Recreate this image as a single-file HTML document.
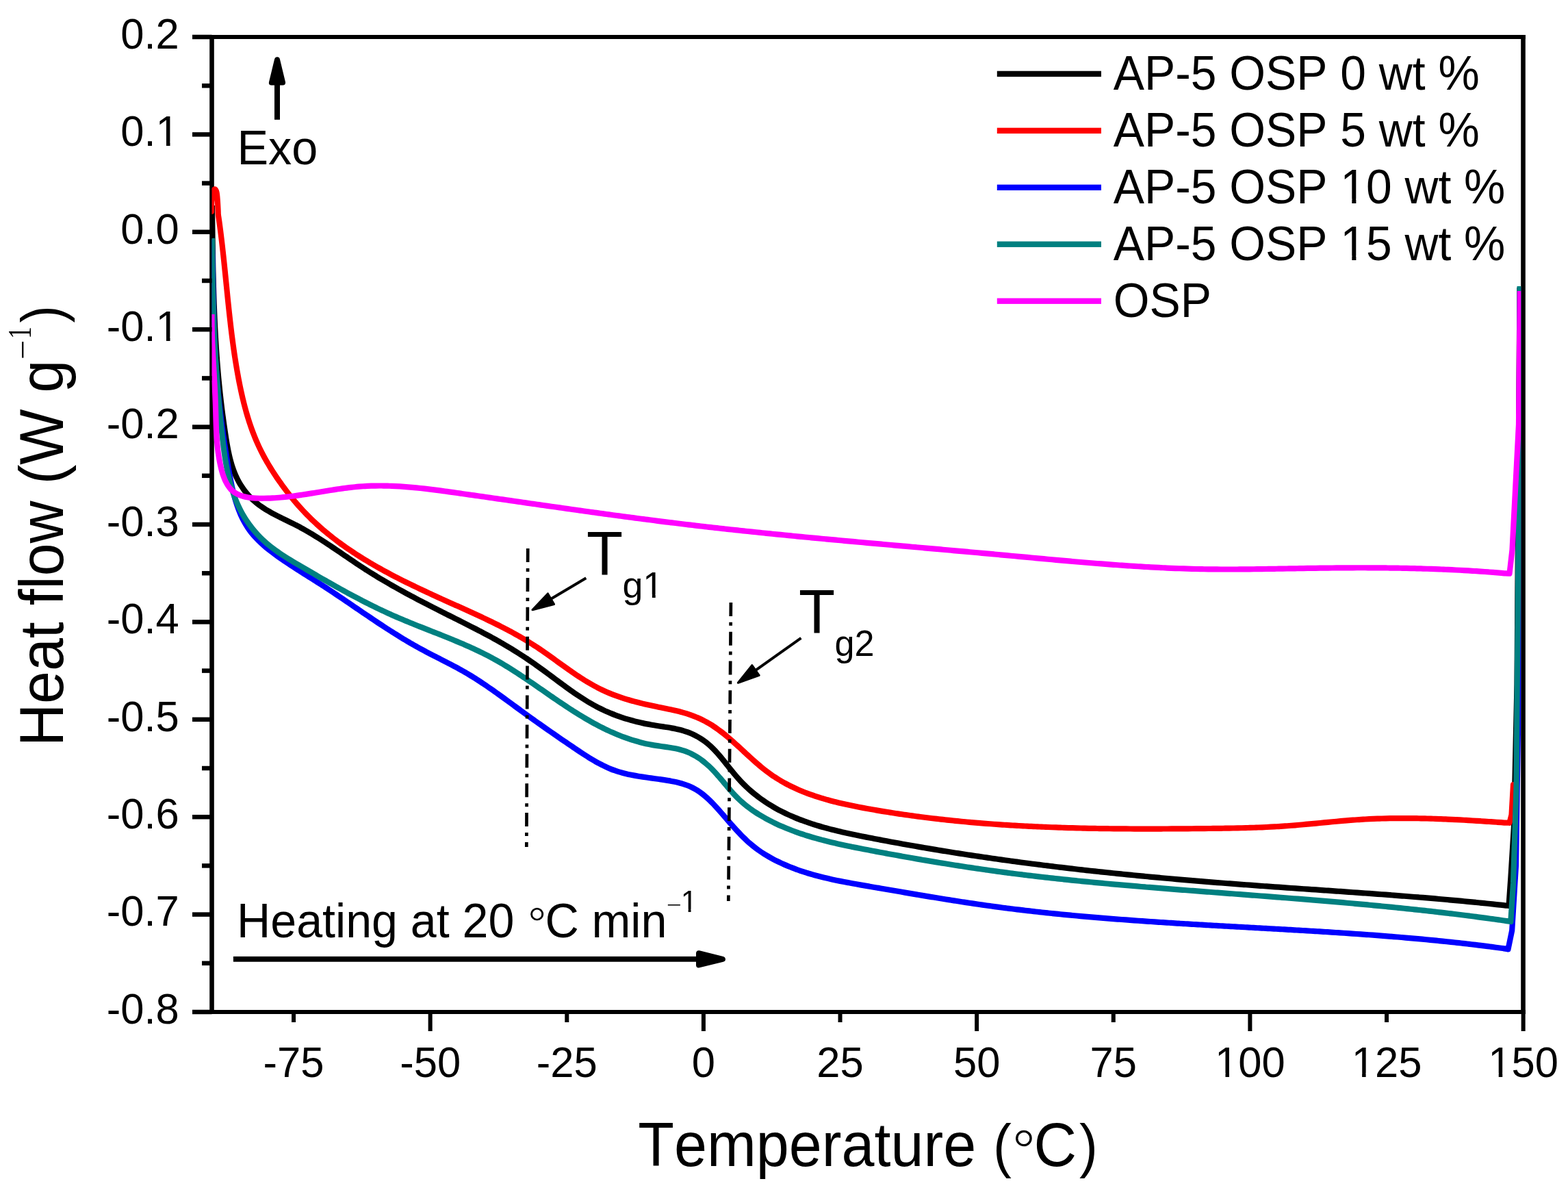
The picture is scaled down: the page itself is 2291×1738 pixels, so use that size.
<!DOCTYPE html><html><head><meta charset="utf-8"><title>DSC heat flow</title><style>html,body{margin:0;padding:0;background:#fff;}svg{display:block;} text{font-kerning:none;font-feature-settings:"kern" 0;}</style></head><body>
<svg width="2291" height="1738" viewBox="0 0 2291 1738">
<rect x="0" y="0" width="2291" height="1738" fill="#fff"/>
<g fill="#000">
<rect x="306.20" y="51.00" width="6.6" height="1430.00"/>
<rect x="2222.20" y="51.00" width="6.6" height="1430.00"/>
<rect x="306.20" y="51.00" width="1922.60" height="6.0"/>
<rect x="306.20" y="1475.00" width="1922.60" height="6.0"/>
</g>
<clipPath id="plotclip"><rect x="309.5" y="0" width="1912.7" height="1738"/></clipPath>
<g fill="none" stroke-width="8.2" stroke-linejoin="round" stroke-linecap="butt" clip-path="url(#plotclip)">
<path d="M309.80,300.00 C309.83,301.00 309.96,304.01 310.00,306.01 C310.05,308.01 310.06,310.01 310.08,312.00 C310.11,314.00 310.13,316.00 310.16,318.00 C310.18,319.99 310.21,321.99 310.23,323.99 C310.26,325.99 310.28,327.99 310.31,330.00 C310.34,332.00 310.36,334.00 310.39,336.00 C310.41,338.00 310.44,340.01 310.47,342.01 C310.50,344.02 310.52,346.02 310.55,348.03 C310.58,350.03 310.61,352.04 310.64,354.04 C310.67,356.05 310.70,358.05 310.73,360.06 C310.76,362.07 310.79,364.08 310.82,366.08 C310.85,368.09 310.89,370.10 310.92,372.11 C310.95,374.12 310.99,376.12 311.03,378.13 C311.06,380.14 311.10,382.15 311.14,384.16 C311.17,386.17 311.21,388.18 311.25,390.19 C311.30,392.20 311.34,394.21 311.38,396.22 C311.42,398.23 311.47,400.24 311.51,402.25 C311.56,404.26 311.61,406.27 311.66,408.28 C311.71,410.29 311.76,412.30 311.81,414.31 C311.86,416.32 311.92,418.33 311.97,420.34 C312.03,422.35 312.09,424.36 312.14,426.37 C312.20,428.38 312.27,430.39 312.33,432.40 C312.39,434.41 312.46,436.42 312.53,438.43 C312.59,440.44 312.66,442.44 312.73,444.45 C312.81,446.46 312.88,448.47 312.96,450.48 C313.03,452.49 313.11,454.49 313.19,456.50 C313.27,458.51 313.36,460.51 313.44,462.52 C313.53,464.53 313.62,466.53 313.71,468.54 C313.80,470.54 313.89,472.55 313.99,474.55 C314.08,476.55 314.18,478.56 314.28,480.56 C314.39,482.56 314.49,484.57 314.60,486.57 C314.71,488.57 314.82,490.57 314.93,492.57 C315.04,494.57 315.16,496.57 315.28,498.57 C315.40,500.57 315.52,502.57 315.65,504.56 C315.77,506.56 315.90,508.56 316.03,510.55 C316.17,512.55 316.30,514.54 316.44,516.54 C316.58,518.53 316.72,520.52 316.87,522.51 C317.02,524.51 317.17,526.50 317.32,528.49 C317.47,530.48 317.63,532.46 317.79,534.45 C317.95,536.44 318.12,538.43 318.29,540.41 C318.45,542.40 318.63,544.38 318.80,546.37 C318.98,548.35 319.16,550.33 319.34,552.31 C319.53,554.30 319.71,556.28 319.91,558.26 C320.10,560.24 320.30,562.22 320.50,564.20 C320.70,566.18 320.90,568.16 321.11,570.15 C321.32,572.13 321.53,574.11 321.75,576.09 C321.97,578.07 322.19,580.05 322.41,582.04 C322.64,584.02 322.87,586.01 323.11,587.99 C323.34,589.98 323.58,591.96 323.82,593.95 C324.07,595.94 324.32,597.93 324.57,599.92 C324.82,601.91 325.08,603.90 325.34,605.90 C325.61,607.89 325.87,609.89 326.15,611.88 C326.42,613.88 326.69,615.88 326.98,617.89 C327.26,619.89 327.54,621.89 327.84,623.90 C328.13,625.91 328.42,627.92 328.72,629.94 C329.03,631.95 329.33,633.97 329.64,635.99 C329.96,638.01 330.27,640.03 330.60,642.05 C330.93,644.08 331.26,646.10 331.61,648.12 C331.96,650.14 332.32,652.16 332.70,654.18 C333.08,656.19 333.47,658.20 333.89,660.20 C334.31,662.20 334.74,664.20 335.21,666.18 C335.67,668.16 336.16,670.13 336.67,672.09 C337.19,674.05 337.73,676.00 338.31,677.92 C338.89,679.85 339.49,681.77 340.14,683.66 C340.79,685.56 341.47,687.44 342.19,689.29 C342.91,691.15 343.67,692.98 344.48,694.79 C345.29,696.60 346.14,698.39 347.03,700.15 C347.93,701.90 348.88,703.64 349.86,705.34 C350.85,707.04 351.89,708.72 352.97,710.37 C354.05,712.01 355.17,713.62 356.34,715.20 C357.51,716.78 358.72,718.33 359.96,719.85 C361.21,721.36 362.51,722.84 363.84,724.28 C365.17,725.72 366.54,727.12 367.94,728.49 C369.35,729.85 370.80,731.17 372.28,732.46 C373.76,733.74 375.29,734.98 376.84,736.19 C378.39,737.39 379.98,738.55 381.59,739.68 C383.21,740.81 384.86,741.90 386.53,742.96 C388.20,744.03 389.90,745.06 391.61,746.08 C393.33,747.09 395.07,748.07 396.82,749.04 C398.58,750.01 400.35,750.95 402.14,751.89 C403.92,752.82 405.73,753.74 407.53,754.65 C409.34,755.56 411.16,756.46 412.98,757.35 C414.80,758.25 416.63,759.14 418.45,760.03 C420.28,760.92 422.11,761.81 423.94,762.71 C425.76,763.60 427.58,764.50 429.40,765.42 C431.21,766.33 433.02,767.25 434.81,768.19 C436.61,769.12 438.39,770.07 440.17,771.04 C441.94,772.00 443.70,772.98 445.46,773.97 C447.22,774.96 448.96,775.96 450.70,776.98 C452.44,777.99 454.16,779.01 455.89,780.05 C457.61,781.08 459.32,782.13 461.03,783.18 C462.73,784.23 464.43,785.29 466.13,786.36 C467.82,787.43 469.51,788.51 471.19,789.59 C472.88,790.68 474.55,791.77 476.23,792.87 C477.90,793.96 479.57,795.07 481.24,796.17 C482.90,797.28 484.56,798.39 486.22,799.50 C487.88,800.62 489.54,801.74 491.19,802.86 C492.85,803.98 494.50,805.10 496.15,806.23 C497.80,807.35 499.45,808.48 501.10,809.60 C502.75,810.73 504.40,811.85 506.05,812.98 C507.70,814.10 509.35,815.23 511.01,816.35 C512.66,817.47 514.31,818.59 515.97,819.71 C517.62,820.82 519.28,821.94 520.94,823.05 C522.60,824.16 524.26,825.26 525.93,826.36 C527.60,827.46 529.27,828.56 530.95,829.65 C532.62,830.73 534.30,831.82 535.99,832.89 C537.67,833.97 539.36,835.04 541.06,836.10 C542.75,837.16 544.45,838.22 546.15,839.27 C547.86,840.31 549.57,841.36 551.28,842.40 C552.99,843.43 554.71,844.46 556.43,845.49 C558.15,846.52 559.87,847.54 561.60,848.55 C563.33,849.56 565.06,850.57 566.80,851.58 C568.53,852.58 570.27,853.58 572.01,854.57 C573.75,855.57 575.50,856.56 577.25,857.54 C579.00,858.53 580.75,859.51 582.50,860.48 C584.26,861.46 586.02,862.43 587.78,863.39 C589.54,864.36 591.30,865.32 593.07,866.28 C594.83,867.24 596.60,868.19 598.37,869.15 C600.14,870.10 601.92,871.04 603.69,871.99 C605.47,872.93 607.24,873.87 609.02,874.81 C610.80,875.75 612.58,876.68 614.37,877.61 C616.15,878.54 617.93,879.47 619.72,880.40 C621.50,881.32 623.29,882.25 625.08,883.17 C626.87,884.09 628.66,885.01 630.45,885.92 C632.24,886.84 634.03,887.75 635.83,888.67 C637.62,889.58 639.41,890.49 641.21,891.40 C643.00,892.31 644.80,893.21 646.59,894.12 C648.39,895.03 650.18,895.93 651.98,896.83 C653.78,897.74 655.57,898.64 657.37,899.54 C659.16,900.44 660.96,901.34 662.76,902.24 C664.55,903.14 666.35,904.04 668.14,904.94 C669.94,905.84 671.73,906.74 673.53,907.64 C675.32,908.54 677.11,909.44 678.91,910.34 C680.70,911.25 682.49,912.15 684.27,913.05 C686.06,913.96 687.85,914.87 689.63,915.78 C691.41,916.69 693.19,917.60 694.97,918.52 C696.75,919.44 698.53,920.36 700.30,921.28 C702.07,922.21 703.84,923.13 705.61,924.07 C707.37,925.00 709.14,925.93 710.89,926.88 C712.65,927.82 714.41,928.77 716.16,929.72 C717.91,930.67 719.65,931.63 721.39,932.60 C723.14,933.56 724.87,934.53 726.60,935.51 C728.34,936.49 730.06,937.47 731.79,938.47 C733.51,939.46 735.23,940.46 736.94,941.46 C738.66,942.47 740.37,943.48 742.07,944.50 C743.78,945.52 745.48,946.55 747.17,947.58 C748.87,948.62 750.56,949.66 752.25,950.71 C753.94,951.76 755.62,952.82 757.31,953.89 C758.99,954.96 760.66,956.03 762.33,957.11 C764.01,958.20 765.67,959.29 767.34,960.39 C769.00,961.49 770.66,962.60 772.32,963.72 C773.97,964.84 775.62,965.97 777.27,967.11 C778.92,968.24 780.57,969.39 782.21,970.55 C783.85,971.70 785.48,972.87 787.12,974.04 C788.75,975.22 790.38,976.40 792.01,977.58 C793.64,978.77 795.27,979.97 796.89,981.16 C798.52,982.36 800.14,983.56 801.76,984.77 C803.39,985.97 805.01,987.18 806.63,988.39 C808.26,989.60 809.88,990.81 811.50,992.01 C813.13,993.22 814.75,994.43 816.38,995.63 C818.00,996.84 819.63,998.04 821.26,999.24 C822.89,1000.43 824.52,1001.63 826.16,1002.81 C827.80,1004.00 829.44,1005.18 831.08,1006.35 C832.72,1007.52 834.37,1008.69 836.02,1009.84 C837.68,1011.00 839.33,1012.14 840.99,1013.28 C842.66,1014.41 844.33,1015.53 846.00,1016.64 C847.68,1017.75 849.36,1018.85 851.04,1019.93 C852.73,1021.01 854.43,1022.07 856.13,1023.12 C857.83,1024.17 859.54,1025.21 861.26,1026.22 C862.98,1027.23 864.71,1028.23 866.45,1029.21 C868.19,1030.18 869.93,1031.14 871.69,1032.07 C873.45,1033.00 875.22,1033.92 877.00,1034.80 C878.78,1035.69 880.57,1036.55 882.37,1037.40 C884.17,1038.24 885.98,1039.05 887.80,1039.85 C889.62,1040.64 891.45,1041.41 893.30,1042.16 C895.14,1042.91 896.99,1043.64 898.85,1044.34 C900.71,1045.05 902.59,1045.73 904.47,1046.39 C906.35,1047.05 908.24,1047.69 910.13,1048.31 C912.03,1048.93 913.94,1049.53 915.86,1050.11 C917.77,1050.69 919.70,1051.25 921.63,1051.79 C923.56,1052.33 925.50,1052.85 927.45,1053.35 C929.40,1053.85 931.35,1054.33 933.31,1054.80 C935.28,1055.26 937.25,1055.71 939.22,1056.13 C941.20,1056.56 943.18,1056.97 945.17,1057.36 C947.16,1057.75 949.16,1058.13 951.16,1058.48 C953.16,1058.84 955.17,1059.18 957.18,1059.51 C959.19,1059.84 961.21,1060.14 963.23,1060.46 C965.25,1060.77 967.27,1061.07 969.28,1061.38 C971.29,1061.69 973.31,1062.00 975.31,1062.32 C977.31,1062.65 979.31,1062.98 981.29,1063.35 C983.27,1063.71 985.25,1064.08 987.20,1064.49 C989.16,1064.91 991.10,1065.34 993.03,1065.82 C994.95,1066.30 996.85,1066.81 998.73,1067.37 C1000.61,1067.94 1002.47,1068.54 1004.30,1069.20 C1006.14,1069.86 1007.95,1070.57 1009.73,1071.32 C1011.51,1072.08 1013.26,1072.88 1014.99,1073.74 C1016.72,1074.59 1018.42,1075.49 1020.09,1076.45 C1021.76,1077.40 1023.41,1078.40 1025.02,1079.45 C1026.63,1080.50 1028.22,1081.60 1029.77,1082.75 C1031.32,1083.90 1032.84,1085.10 1034.33,1086.34 C1035.82,1087.59 1037.28,1088.89 1038.71,1090.23 C1040.14,1091.57 1041.54,1092.95 1042.92,1094.37 C1044.31,1095.78 1045.66,1097.24 1047.00,1098.72 C1048.35,1100.20 1049.67,1101.72 1050.98,1103.25 C1052.29,1104.78 1053.58,1106.34 1054.87,1107.91 C1056.17,1109.48 1057.44,1111.08 1058.72,1112.68 C1060.00,1114.27 1061.27,1115.89 1062.55,1117.50 C1063.83,1119.11 1065.10,1120.73 1066.38,1122.34 C1067.67,1123.95 1068.95,1125.56 1070.26,1127.16 C1071.56,1128.76 1072.86,1130.35 1074.19,1131.93 C1075.52,1133.50 1076.86,1135.06 1078.22,1136.59 C1079.58,1138.12 1080.96,1139.64 1082.36,1141.12 C1083.77,1142.61 1085.19,1144.07 1086.64,1145.51 C1088.08,1146.94 1089.54,1148.35 1091.03,1149.74 C1092.51,1151.13 1094.01,1152.49 1095.53,1153.83 C1097.05,1155.17 1098.59,1156.48 1100.14,1157.77 C1101.69,1159.06 1103.26,1160.33 1104.85,1161.57 C1106.43,1162.81 1108.03,1164.03 1109.65,1165.22 C1111.26,1166.41 1112.89,1167.58 1114.53,1168.72 C1116.18,1169.87 1117.83,1170.99 1119.50,1172.09 C1121.17,1173.18 1122.85,1174.26 1124.54,1175.30 C1126.23,1176.35 1127.94,1177.38 1129.65,1178.38 C1131.36,1179.38 1133.09,1180.36 1134.82,1181.32 C1136.56,1182.28 1138.30,1183.21 1140.06,1184.12 C1141.81,1185.04 1143.58,1185.93 1145.35,1186.80 C1147.13,1187.67 1148.91,1188.52 1150.70,1189.36 C1152.50,1190.19 1154.30,1191.00 1156.11,1191.79 C1157.92,1192.59 1159.74,1193.36 1161.56,1194.12 C1163.39,1194.88 1165.23,1195.62 1167.07,1196.34 C1168.91,1197.06 1170.76,1197.77 1172.62,1198.46 C1174.48,1199.14 1176.34,1199.82 1178.22,1200.47 C1180.09,1201.13 1181.97,1201.77 1183.85,1202.40 C1185.74,1203.03 1187.63,1203.64 1189.53,1204.24 C1191.43,1204.84 1193.33,1205.43 1195.24,1206.00 C1197.15,1206.58 1199.06,1207.14 1200.98,1207.68 C1202.90,1208.23 1204.83,1208.77 1206.76,1209.30 C1208.69,1209.82 1210.62,1210.34 1212.56,1210.84 C1214.50,1211.35 1216.44,1211.84 1218.39,1212.32 C1220.34,1212.81 1222.29,1213.28 1224.24,1213.75 C1226.19,1214.22 1228.15,1214.68 1230.11,1215.13 C1232.07,1215.58 1234.04,1216.02 1236.00,1216.46 C1237.97,1216.90 1239.94,1217.33 1241.91,1217.75 C1243.88,1218.17 1245.85,1218.59 1247.83,1219.00 C1249.80,1219.42 1251.78,1219.82 1253.75,1220.23 C1255.73,1220.63 1257.71,1221.03 1259.69,1221.43 C1261.67,1221.82 1263.65,1222.21 1265.63,1222.61 C1267.61,1223.00 1269.59,1223.38 1271.57,1223.77 C1273.55,1224.15 1275.53,1224.54 1277.51,1224.92 C1279.49,1225.30 1281.47,1225.68 1283.46,1226.06 C1285.44,1226.44 1287.42,1226.81 1289.40,1227.19 C1291.38,1227.56 1293.36,1227.94 1295.34,1228.31 C1297.32,1228.68 1299.30,1229.05 1301.29,1229.41 C1303.27,1229.78 1305.25,1230.15 1307.23,1230.51 C1309.21,1230.87 1311.19,1231.23 1313.17,1231.59 C1315.16,1231.95 1317.14,1232.31 1319.12,1232.67 C1321.10,1233.02 1323.08,1233.38 1325.06,1233.73 C1327.05,1234.08 1329.03,1234.43 1331.01,1234.78 C1332.99,1235.13 1334.97,1235.48 1336.96,1235.83 C1338.94,1236.17 1340.92,1236.51 1342.90,1236.86 C1344.89,1237.20 1346.87,1237.54 1348.85,1237.88 C1350.83,1238.22 1352.81,1238.55 1354.80,1238.89 C1356.78,1239.22 1358.76,1239.56 1360.75,1239.89 C1362.73,1240.22 1364.71,1240.55 1366.69,1240.88 C1368.68,1241.21 1370.66,1241.53 1372.64,1241.86 C1374.62,1242.18 1376.61,1242.51 1378.59,1242.83 C1380.57,1243.15 1382.56,1243.47 1384.54,1243.79 C1386.52,1244.11 1388.51,1244.42 1390.49,1244.74 C1392.47,1245.05 1394.46,1245.37 1396.44,1245.68 C1398.42,1245.99 1400.41,1246.30 1402.39,1246.61 C1404.38,1246.92 1406.36,1247.23 1408.34,1247.53 C1410.33,1247.84 1412.31,1248.14 1414.29,1248.44 C1416.28,1248.74 1418.26,1249.04 1420.25,1249.34 C1422.23,1249.64 1424.22,1249.94 1426.20,1250.24 C1428.18,1250.53 1430.17,1250.83 1432.15,1251.12 C1434.14,1251.41 1436.12,1251.70 1438.11,1251.99 C1440.09,1252.28 1442.08,1252.57 1444.06,1252.86 C1446.05,1253.14 1448.03,1253.43 1450.02,1253.71 C1452.00,1254.00 1453.99,1254.28 1455.97,1254.56 C1457.96,1254.84 1459.94,1255.12 1461.93,1255.40 C1463.91,1255.67 1465.90,1255.95 1467.88,1256.23 C1469.87,1256.50 1471.86,1256.77 1473.84,1257.05 C1475.83,1257.32 1477.81,1257.59 1479.80,1257.86 C1481.79,1258.13 1483.77,1258.39 1485.76,1258.66 C1487.74,1258.93 1489.73,1259.19 1491.72,1259.45 C1493.70,1259.72 1495.69,1259.98 1497.68,1260.24 C1499.66,1260.50 1501.65,1260.76 1503.64,1261.02 C1505.62,1261.27 1507.61,1261.53 1509.60,1261.78 C1511.58,1262.04 1513.57,1262.29 1515.56,1262.55 C1517.55,1262.80 1519.53,1263.05 1521.52,1263.30 C1523.51,1263.55 1525.49,1263.80 1527.48,1264.04 C1529.47,1264.29 1531.46,1264.53 1533.45,1264.78 C1535.43,1265.02 1537.42,1265.27 1539.41,1265.51 C1541.40,1265.75 1543.39,1265.99 1545.37,1266.23 C1547.36,1266.47 1549.35,1266.70 1551.34,1266.94 C1553.33,1267.18 1555.32,1267.41 1557.30,1267.65 C1559.29,1267.88 1561.28,1268.11 1563.27,1268.34 C1565.26,1268.57 1567.25,1268.80 1569.24,1269.03 C1571.23,1269.26 1573.22,1269.49 1575.21,1269.72 C1577.20,1269.94 1579.18,1270.17 1581.17,1270.39 C1583.16,1270.61 1585.15,1270.84 1587.14,1271.06 C1589.13,1271.28 1591.12,1271.50 1593.11,1271.72 C1595.10,1271.94 1597.09,1272.16 1599.08,1272.37 C1601.07,1272.59 1603.06,1272.80 1605.06,1273.02 C1607.05,1273.23 1609.04,1273.45 1611.03,1273.66 C1613.02,1273.87 1615.01,1274.08 1617.00,1274.29 C1618.99,1274.50 1620.98,1274.71 1622.97,1274.92 C1624.96,1275.12 1626.96,1275.33 1628.95,1275.54 C1630.94,1275.74 1632.93,1275.95 1634.92,1276.15 C1636.91,1276.35 1638.91,1276.55 1640.90,1276.75 C1642.89,1276.96 1644.88,1277.16 1646.87,1277.35 C1648.87,1277.55 1650.86,1277.75 1652.85,1277.95 C1654.84,1278.14 1656.84,1278.34 1658.83,1278.53 C1660.82,1278.73 1662.82,1278.92 1664.81,1279.11 C1666.80,1279.31 1668.80,1279.50 1670.79,1279.69 C1672.78,1279.88 1674.78,1280.07 1676.77,1280.26 C1678.76,1280.44 1680.76,1280.63 1682.75,1280.82 C1684.74,1281.00 1686.74,1281.19 1688.73,1281.37 C1690.73,1281.56 1692.72,1281.74 1694.72,1281.92 C1696.71,1282.11 1698.70,1282.29 1700.70,1282.47 C1702.69,1282.65 1704.69,1282.83 1706.68,1283.01 C1708.68,1283.19 1710.67,1283.36 1712.67,1283.54 C1714.66,1283.72 1716.66,1283.89 1718.66,1284.07 C1720.65,1284.24 1722.65,1284.42 1724.64,1284.59 C1726.64,1284.76 1728.64,1284.93 1730.63,1285.11 C1732.63,1285.28 1734.62,1285.45 1736.62,1285.62 C1738.62,1285.79 1740.61,1285.96 1742.61,1286.12 C1744.61,1286.29 1746.60,1286.46 1748.60,1286.62 C1750.60,1286.79 1752.59,1286.96 1754.59,1287.12 C1756.59,1287.28 1758.59,1287.45 1760.58,1287.61 C1762.58,1287.77 1764.58,1287.94 1766.58,1288.10 C1768.58,1288.26 1770.57,1288.42 1772.57,1288.58 C1774.57,1288.74 1776.57,1288.90 1778.57,1289.05 C1780.57,1289.21 1782.57,1289.37 1784.56,1289.53 C1786.56,1289.68 1788.56,1289.84 1790.56,1289.99 C1792.56,1290.15 1794.56,1290.30 1796.56,1290.46 C1798.56,1290.61 1800.56,1290.76 1802.56,1290.91 C1804.56,1291.07 1806.56,1291.22 1808.56,1291.37 C1810.56,1291.52 1812.56,1291.67 1814.56,1291.82 C1816.56,1291.97 1818.56,1292.11 1820.56,1292.26 C1822.56,1292.41 1824.56,1292.56 1826.56,1292.70 C1828.57,1292.85 1830.57,1293.00 1832.57,1293.14 C1834.57,1293.29 1836.57,1293.43 1838.57,1293.58 C1840.57,1293.72 1842.58,1293.87 1844.58,1294.01 C1846.58,1294.15 1848.58,1294.30 1850.58,1294.44 C1852.58,1294.58 1854.59,1294.72 1856.59,1294.87 C1858.59,1295.01 1860.59,1295.15 1862.59,1295.29 C1864.60,1295.43 1866.60,1295.57 1868.60,1295.71 C1870.60,1295.85 1872.61,1295.99 1874.61,1296.13 C1876.61,1296.27 1878.61,1296.41 1880.62,1296.55 C1882.62,1296.69 1884.62,1296.83 1886.63,1296.97 C1888.63,1297.11 1890.63,1297.25 1892.63,1297.39 C1894.64,1297.53 1896.64,1297.67 1898.64,1297.80 C1900.65,1297.94 1902.65,1298.08 1904.65,1298.22 C1906.66,1298.36 1908.66,1298.49 1910.66,1298.63 C1912.67,1298.77 1914.67,1298.91 1916.67,1299.05 C1918.68,1299.18 1920.68,1299.32 1922.68,1299.46 C1924.68,1299.60 1926.69,1299.74 1928.69,1299.87 C1930.69,1300.01 1932.70,1300.15 1934.70,1300.29 C1936.70,1300.43 1938.71,1300.57 1940.71,1300.70 C1942.71,1300.84 1944.72,1300.98 1946.72,1301.12 C1948.72,1301.26 1950.73,1301.40 1952.73,1301.54 C1954.73,1301.68 1956.74,1301.82 1958.74,1301.96 C1960.74,1302.10 1962.74,1302.24 1964.75,1302.38 C1966.75,1302.52 1968.75,1302.66 1970.76,1302.80 C1972.76,1302.94 1974.76,1303.08 1976.76,1303.22 C1978.77,1303.36 1980.77,1303.50 1982.77,1303.65 C1984.78,1303.79 1986.78,1303.93 1988.78,1304.07 C1990.78,1304.22 1992.79,1304.36 1994.79,1304.51 C1996.79,1304.65 1998.79,1304.79 2000.79,1304.94 C2002.80,1305.08 2004.80,1305.23 2006.80,1305.38 C2008.80,1305.52 2010.80,1305.67 2012.81,1305.82 C2014.81,1305.96 2016.81,1306.11 2018.81,1306.26 C2020.81,1306.41 2022.81,1306.56 2024.81,1306.71 C2026.82,1306.86 2028.82,1307.01 2030.82,1307.16 C2032.82,1307.31 2034.82,1307.46 2036.82,1307.62 C2038.82,1307.77 2040.82,1307.92 2042.82,1308.08 C2044.82,1308.23 2046.82,1308.38 2048.82,1308.54 C2050.82,1308.70 2052.82,1308.85 2054.82,1309.01 C2056.82,1309.17 2058.82,1309.33 2060.82,1309.49 C2062.82,1309.64 2064.82,1309.80 2066.82,1309.97 C2068.82,1310.13 2070.82,1310.29 2072.82,1310.45 C2074.82,1310.61 2076.82,1310.78 2078.81,1310.94 C2080.81,1311.11 2082.81,1311.27 2084.81,1311.44 C2086.81,1311.61 2088.81,1311.78 2090.80,1311.95 C2092.80,1312.11 2094.80,1312.28 2096.80,1312.46 C2098.79,1312.63 2100.79,1312.80 2102.79,1312.97 C2104.78,1313.15 2106.78,1313.32 2108.78,1313.50 C2110.77,1313.67 2112.77,1313.85 2114.77,1314.03 C2116.76,1314.21 2118.76,1314.39 2120.75,1314.57 C2122.75,1314.75 2124.74,1314.93 2126.74,1315.11 C2128.73,1315.30 2130.73,1315.48 2132.72,1315.67 C2134.72,1315.85 2136.71,1316.04 2138.71,1316.23 C2140.70,1316.42 2142.69,1316.61 2144.69,1316.80 C2146.68,1316.99 2148.67,1317.19 2150.67,1317.38 C2152.66,1317.57 2154.65,1317.77 2156.64,1317.97 C2158.64,1318.17 2160.63,1318.36 2162.62,1318.56 C2164.61,1318.77 2166.60,1318.97 2168.59,1319.17 C2170.58,1319.37 2172.58,1319.58 2174.57,1319.79 C2176.56,1319.99 2178.55,1320.20 2180.54,1320.41 C2182.53,1320.62 2184.52,1320.83 2186.51,1321.05 C2188.49,1321.26 2190.48,1321.48 2192.47,1321.69 C2194.46,1321.91 2196.43,1322.16 2198.44,1322.35 C2200.44,1322.53 2203.49,1322.72 2204.50,1322.80 L2207.30,1282.90 L2212.00,1207.00 L2216.50,1000.00 L2220.50,420.00" stroke="#000000"/>
<path d="M309.00,309.00 C309.05,306.67 309.00,299.50 309.30,295.00 C309.60,290.50 310.05,285.12 310.80,282.00 C311.55,278.88 312.85,276.47 313.80,276.30 C314.75,276.13 315.83,278.22 316.50,281.00 C317.17,283.78 317.45,288.63 317.80,293.00 C318.15,297.37 318.43,303.81 318.60,307.20 C318.77,310.59 318.66,311.31 318.85,313.32 C319.03,315.33 319.43,317.27 319.71,319.25 C319.99,321.22 320.26,323.20 320.54,325.18 C320.81,327.16 321.07,329.14 321.34,331.13 C321.60,333.11 321.86,335.10 322.11,337.08 C322.36,339.07 322.61,341.05 322.86,343.04 C323.11,345.03 323.35,347.02 323.59,349.01 C323.82,351.00 324.06,352.99 324.29,354.99 C324.52,356.98 324.75,358.97 324.98,360.97 C325.21,362.96 325.43,364.96 325.65,366.96 C325.87,368.95 326.09,370.95 326.31,372.95 C326.52,374.95 326.74,376.95 326.95,378.94 C327.16,380.94 327.37,382.95 327.58,384.95 C327.79,386.95 328.00,388.95 328.20,390.95 C328.41,392.95 328.61,394.96 328.82,396.96 C329.02,398.96 329.22,400.97 329.43,402.97 C329.63,404.98 329.83,406.98 330.03,408.98 C330.23,410.99 330.43,412.99 330.64,415.00 C330.84,417.01 331.04,419.01 331.24,421.02 C331.44,423.02 331.64,425.03 331.85,427.03 C332.05,429.04 332.25,431.05 332.46,433.05 C332.66,435.06 332.87,437.06 333.07,439.07 C333.28,441.07 333.49,443.08 333.70,445.09 C333.91,447.09 334.12,449.10 334.33,451.10 C334.55,453.11 334.76,455.11 334.98,457.11 C335.20,459.12 335.42,461.12 335.64,463.13 C335.86,465.13 336.09,467.13 336.32,469.13 C336.54,471.14 336.77,473.14 337.01,475.14 C337.24,477.14 337.48,479.14 337.72,481.14 C337.96,483.14 338.21,485.14 338.45,487.14 C338.70,489.14 338.95,491.13 339.21,493.13 C339.47,495.13 339.73,497.12 339.99,499.12 C340.26,501.11 340.53,503.11 340.80,505.10 C341.08,507.09 341.35,509.09 341.64,511.08 C341.92,513.07 342.21,515.06 342.51,517.04 C342.80,519.03 343.10,521.02 343.41,523.01 C343.72,524.99 344.03,526.98 344.34,528.96 C344.66,530.94 344.99,532.93 345.32,534.91 C345.65,536.89 345.98,538.87 346.33,540.84 C346.67,542.82 347.02,544.80 347.38,546.77 C347.74,548.74 348.10,550.72 348.47,552.69 C348.84,554.66 349.22,556.63 349.61,558.60 C350.00,560.56 350.39,562.53 350.80,564.49 C351.20,566.46 351.61,568.42 352.03,570.37 C352.45,572.33 352.89,574.29 353.33,576.24 C353.77,578.19 354.22,580.14 354.68,582.09 C355.14,584.03 355.62,585.98 356.10,587.92 C356.59,589.86 357.08,591.79 357.59,593.72 C358.10,595.65 358.62,597.58 359.16,599.51 C359.69,601.43 360.24,603.35 360.80,605.26 C361.36,607.18 361.94,609.09 362.53,610.99 C363.12,612.89 363.72,614.79 364.34,616.69 C364.96,618.58 365.60,620.47 366.25,622.35 C366.90,624.24 367.57,626.11 368.25,627.98 C368.94,629.85 369.64,631.72 370.36,633.58 C371.08,635.44 371.81,637.29 372.57,639.13 C373.32,640.98 374.09,642.82 374.88,644.65 C375.68,646.48 376.49,648.31 377.32,650.12 C378.15,651.94 379.00,653.75 379.87,655.55 C380.74,657.35 381.63,659.15 382.54,660.93 C383.45,662.72 384.39,664.50 385.34,666.27 C386.29,668.04 387.26,669.80 388.25,671.56 C389.24,673.31 390.25,675.06 391.27,676.80 C392.30,678.54 393.34,680.27 394.40,681.99 C395.45,683.72 396.53,685.43 397.62,687.14 C398.70,688.85 399.81,690.55 400.93,692.25 C402.04,693.94 403.17,695.63 404.32,697.31 C405.46,698.99 406.62,700.66 407.79,702.33 C408.95,703.99 410.13,705.65 411.32,707.30 C412.51,708.95 413.71,710.60 414.93,712.23 C416.14,713.87 417.36,715.50 418.59,717.12 C419.83,718.73 421.07,720.34 422.33,721.94 C423.58,723.54 424.85,725.13 426.13,726.71 C427.41,728.28 428.70,729.85 430.00,731.41 C431.30,732.96 432.61,734.50 433.93,736.03 C435.26,737.56 436.59,739.08 437.94,740.58 C439.29,742.08 440.65,743.57 442.02,745.04 C443.39,746.51 444.77,747.97 446.16,749.42 C447.56,750.87 448.96,752.30 450.38,753.72 C451.79,755.14 453.22,756.54 454.66,757.93 C456.09,759.33 457.54,760.71 459.00,762.07 C460.46,763.44 461.92,764.79 463.40,766.14 C464.88,767.48 466.37,768.81 467.87,770.12 C469.37,771.44 470.87,772.75 472.39,774.04 C473.91,775.33 475.44,776.61 476.97,777.88 C478.51,779.15 480.06,780.41 481.61,781.66 C483.16,782.90 484.73,784.14 486.30,785.36 C487.87,786.59 489.45,787.80 491.04,789.00 C492.63,790.21 494.23,791.40 495.83,792.58 C497.44,793.76 499.05,794.93 500.68,796.09 C502.30,797.26 503.93,798.41 505.56,799.55 C507.20,800.69 508.85,801.82 510.50,802.94 C512.15,804.07 513.81,805.18 515.47,806.28 C517.14,807.39 518.81,808.48 520.49,809.57 C522.17,810.65 523.86,811.73 525.55,812.80 C527.24,813.86 528.94,814.92 530.65,815.97 C532.35,817.03 534.06,818.07 535.78,819.10 C537.50,820.14 539.22,821.16 540.95,822.18 C542.68,823.20 544.41,824.21 546.15,825.22 C547.89,826.22 549.63,827.22 551.38,828.21 C553.13,829.20 554.89,830.18 556.64,831.15 C558.40,832.13 560.17,833.10 561.94,834.06 C563.70,835.02 565.48,835.98 567.25,836.93 C569.03,837.88 570.81,838.82 572.59,839.76 C574.38,840.70 576.17,841.63 577.96,842.55 C579.75,843.48 581.55,844.40 583.35,845.31 C585.15,846.23 586.95,847.14 588.75,848.04 C590.56,848.95 592.37,849.85 594.18,850.74 C595.99,851.63 597.80,852.52 599.62,853.41 C601.43,854.30 603.25,855.18 605.07,856.05 C606.89,856.93 608.71,857.80 610.54,858.67 C612.36,859.54 614.19,860.41 616.02,861.27 C617.84,862.13 619.67,862.99 621.50,863.84 C623.33,864.70 625.17,865.55 627.00,866.40 C628.83,867.25 630.67,868.09 632.50,868.93 C634.34,869.78 636.17,870.62 638.01,871.45 C639.84,872.29 641.68,873.13 643.52,873.96 C645.35,874.80 647.19,875.63 649.02,876.46 C650.86,877.29 652.70,878.11 654.53,878.94 C656.37,879.77 658.20,880.59 660.04,881.42 C661.87,882.24 663.71,883.06 665.54,883.89 C667.37,884.71 669.21,885.53 671.04,886.35 C672.87,887.17 674.70,888.00 676.53,888.82 C678.36,889.64 680.18,890.47 682.01,891.29 C683.83,892.12 685.66,892.95 687.48,893.78 C689.30,894.61 691.12,895.44 692.94,896.27 C694.76,897.11 696.58,897.94 698.39,898.78 C700.21,899.62 702.02,900.47 703.83,901.31 C705.64,902.16 707.44,903.01 709.25,903.87 C711.05,904.73 712.86,905.59 714.65,906.45 C716.45,907.32 718.25,908.19 720.04,909.06 C721.83,909.94 723.62,910.82 725.41,911.71 C727.20,912.60 728.98,913.49 730.76,914.40 C732.54,915.30 734.31,916.21 736.09,917.12 C737.86,918.04 739.63,918.97 741.39,919.90 C743.15,920.83 744.92,921.77 746.67,922.72 C748.43,923.67 750.18,924.63 751.93,925.60 C753.67,926.56 755.42,927.54 757.15,928.53 C758.89,929.52 760.62,930.51 762.35,931.52 C764.08,932.53 765.80,933.55 767.52,934.58 C769.24,935.61 770.95,936.65 772.66,937.70 C774.37,938.76 776.07,939.82 777.77,940.90 C779.46,941.98 781.16,943.07 782.84,944.17 C784.53,945.28 786.21,946.39 787.88,947.52 C789.56,948.65 791.22,949.79 792.89,950.93 C794.56,952.08 796.22,953.24 797.88,954.40 C799.54,955.56 801.19,956.74 802.84,957.91 C804.50,959.09 806.15,960.27 807.80,961.45 C809.45,962.63 811.10,963.82 812.75,965.01 C814.40,966.19 816.04,967.38 817.69,968.57 C819.34,969.75 820.99,970.94 822.64,972.12 C824.29,973.30 825.95,974.48 827.60,975.66 C829.26,976.83 830.91,978.00 832.57,979.16 C834.24,980.32 835.90,981.47 837.57,982.62 C839.24,983.76 840.91,984.90 842.59,986.02 C844.26,987.14 845.95,988.25 847.64,989.35 C849.33,990.45 851.02,991.53 852.72,992.60 C854.43,993.67 856.14,994.73 857.85,995.76 C859.57,996.80 861.30,997.82 863.03,998.81 C864.77,999.81 866.51,1000.79 868.26,1001.75 C870.01,1002.71 871.78,1003.64 873.55,1004.55 C875.32,1005.46 877.11,1006.35 878.90,1007.22 C880.70,1008.08 882.51,1008.92 884.32,1009.73 C886.14,1010.54 887.97,1011.33 889.81,1012.10 C891.65,1012.86 893.49,1013.61 895.35,1014.33 C897.21,1015.05 899.08,1015.75 900.95,1016.43 C902.83,1017.12 904.71,1017.78 906.60,1018.42 C908.50,1019.06 910.40,1019.68 912.31,1020.29 C914.21,1020.89 916.13,1021.48 918.05,1022.05 C919.97,1022.62 921.90,1023.18 923.83,1023.72 C925.77,1024.26 927.71,1024.78 929.66,1025.29 C931.60,1025.80 933.55,1026.30 935.51,1026.78 C937.46,1027.26 939.43,1027.73 941.39,1028.19 C943.36,1028.65 945.32,1029.10 947.30,1029.54 C949.27,1029.98 951.24,1030.41 953.22,1030.83 C955.20,1031.24 957.18,1031.65 959.16,1032.06 C961.14,1032.46 963.13,1032.86 965.11,1033.26 C967.09,1033.66 969.07,1034.06 971.05,1034.46 C973.03,1034.86 975.01,1035.27 976.98,1035.69 C978.94,1036.10 980.91,1036.52 982.87,1036.96 C984.83,1037.40 986.78,1037.85 988.72,1038.32 C990.66,1038.80 992.59,1039.28 994.51,1039.79 C996.43,1040.31 998.35,1040.84 1000.24,1041.40 C1002.14,1041.96 1004.02,1042.55 1005.89,1043.17 C1007.76,1043.79 1009.62,1044.43 1011.46,1045.11 C1013.30,1045.79 1015.13,1046.50 1016.94,1047.24 C1018.75,1047.98 1020.55,1048.76 1022.33,1049.56 C1024.11,1050.37 1025.87,1051.21 1027.62,1052.09 C1029.36,1052.97 1031.09,1053.88 1032.80,1054.84 C1034.52,1055.79 1036.21,1056.78 1037.89,1057.80 C1039.56,1058.83 1041.22,1059.89 1042.87,1060.98 C1044.52,1062.07 1046.14,1063.20 1047.76,1064.35 C1049.38,1065.50 1050.98,1066.69 1052.57,1067.89 C1054.17,1069.10 1055.75,1070.33 1057.32,1071.58 C1058.89,1072.84 1060.45,1074.11 1062.00,1075.41 C1063.55,1076.70 1065.09,1078.01 1066.63,1079.34 C1068.17,1080.67 1069.69,1082.01 1071.22,1083.36 C1072.74,1084.72 1074.26,1086.09 1075.78,1087.46 C1077.30,1088.83 1078.81,1090.22 1080.32,1091.60 C1081.83,1092.99 1083.34,1094.38 1084.85,1095.78 C1086.36,1097.17 1087.86,1098.57 1089.37,1099.96 C1090.88,1101.35 1092.39,1102.74 1093.91,1104.13 C1095.42,1105.51 1096.94,1106.90 1098.46,1108.27 C1099.98,1109.64 1101.51,1111.01 1103.04,1112.36 C1104.58,1113.71 1106.12,1115.05 1107.67,1116.37 C1109.21,1117.70 1110.77,1119.01 1112.33,1120.30 C1113.90,1121.59 1115.47,1122.86 1117.06,1124.11 C1118.65,1125.36 1120.25,1126.59 1121.86,1127.79 C1123.47,1128.99 1125.09,1130.16 1126.73,1131.31 C1128.37,1132.46 1130.02,1133.58 1131.68,1134.68 C1133.35,1135.77 1135.03,1136.84 1136.72,1137.89 C1138.41,1138.93 1140.11,1139.95 1141.82,1140.95 C1143.54,1141.94 1145.26,1142.91 1147.00,1143.86 C1148.74,1144.81 1150.49,1145.73 1152.25,1146.63 C1154.01,1147.54 1155.78,1148.42 1157.57,1149.27 C1159.35,1150.13 1161.14,1150.97 1162.94,1151.78 C1164.74,1152.60 1166.56,1153.40 1168.38,1154.17 C1170.20,1154.95 1172.03,1155.70 1173.87,1156.44 C1175.71,1157.18 1177.56,1157.89 1179.42,1158.59 C1181.27,1159.30 1183.14,1159.98 1185.01,1160.64 C1186.89,1161.31 1188.77,1161.95 1190.66,1162.59 C1192.55,1163.22 1194.44,1163.83 1196.35,1164.43 C1198.25,1165.03 1200.16,1165.62 1202.07,1166.19 C1203.99,1166.76 1205.91,1167.32 1207.84,1167.86 C1209.77,1168.40 1211.70,1168.93 1213.64,1169.45 C1215.58,1169.96 1217.52,1170.47 1219.47,1170.96 C1221.42,1171.45 1223.37,1171.93 1225.33,1172.40 C1227.29,1172.87 1229.25,1173.33 1231.22,1173.78 C1233.18,1174.23 1235.15,1174.66 1237.12,1175.09 C1239.10,1175.52 1241.07,1175.94 1243.05,1176.35 C1245.03,1176.77 1247.01,1177.17 1248.99,1177.57 C1250.97,1177.96 1252.96,1178.35 1254.95,1178.74 C1256.93,1179.12 1258.92,1179.49 1260.91,1179.87 C1262.90,1180.24 1264.89,1180.60 1266.88,1180.96 C1268.87,1181.32 1270.86,1181.68 1272.85,1182.03 C1274.84,1182.38 1276.84,1182.73 1278.83,1183.08 C1280.82,1183.42 1282.81,1183.76 1284.80,1184.09 C1286.80,1184.43 1288.79,1184.76 1290.78,1185.09 C1292.78,1185.42 1294.77,1185.74 1296.76,1186.06 C1298.76,1186.38 1300.75,1186.69 1302.74,1187.01 C1304.74,1187.32 1306.73,1187.63 1308.73,1187.93 C1310.72,1188.23 1312.72,1188.53 1314.71,1188.83 C1316.71,1189.13 1318.70,1189.42 1320.70,1189.71 C1322.69,1189.99 1324.69,1190.28 1326.68,1190.56 C1328.68,1190.84 1330.67,1191.12 1332.67,1191.39 C1334.67,1191.66 1336.66,1191.93 1338.66,1192.20 C1340.66,1192.47 1342.65,1192.73 1344.65,1192.99 C1346.65,1193.25 1348.65,1193.50 1350.64,1193.75 C1352.64,1194.01 1354.64,1194.25 1356.64,1194.50 C1358.63,1194.74 1360.63,1194.98 1362.63,1195.22 C1364.63,1195.46 1366.63,1195.69 1368.63,1195.92 C1370.63,1196.15 1372.62,1196.38 1374.62,1196.61 C1376.62,1196.83 1378.62,1197.05 1380.62,1197.27 C1382.62,1197.48 1384.62,1197.70 1386.62,1197.91 C1388.62,1198.12 1390.62,1198.33 1392.62,1198.53 C1394.62,1198.73 1396.62,1198.93 1398.62,1199.13 C1400.62,1199.33 1402.62,1199.52 1404.63,1199.72 C1406.63,1199.91 1408.63,1200.09 1410.63,1200.28 C1412.63,1200.46 1414.63,1200.65 1416.63,1200.82 C1418.64,1201.00 1420.64,1201.18 1422.64,1201.35 C1424.64,1201.52 1426.65,1201.69 1428.65,1201.86 C1430.65,1202.03 1432.65,1202.19 1434.66,1202.35 C1436.66,1202.51 1438.66,1202.67 1440.66,1202.83 C1442.67,1202.98 1444.67,1203.13 1446.67,1203.28 C1448.68,1203.43 1450.68,1203.58 1452.69,1203.72 C1454.69,1203.87 1456.69,1204.01 1458.70,1204.15 C1460.70,1204.28 1462.71,1204.42 1464.71,1204.55 C1466.71,1204.68 1468.72,1204.81 1470.72,1204.94 C1472.73,1205.07 1474.73,1205.19 1476.74,1205.32 C1478.74,1205.44 1480.75,1205.56 1482.75,1205.67 C1484.76,1205.79 1486.76,1205.91 1488.77,1206.02 C1490.77,1206.13 1492.78,1206.24 1494.79,1206.35 C1496.79,1206.45 1498.80,1206.56 1500.80,1206.66 C1502.81,1206.76 1504.81,1206.86 1506.82,1206.96 C1508.83,1207.06 1510.83,1207.15 1512.84,1207.24 C1514.85,1207.34 1516.85,1207.43 1518.86,1207.52 C1520.87,1207.60 1522.87,1207.69 1524.88,1207.77 C1526.89,1207.86 1528.89,1207.94 1530.90,1208.02 C1532.91,1208.10 1534.92,1208.17 1536.92,1208.25 C1538.93,1208.32 1540.94,1208.39 1542.94,1208.46 C1544.95,1208.54 1546.96,1208.60 1548.97,1208.67 C1550.98,1208.74 1552.98,1208.80 1554.99,1208.86 C1557.00,1208.93 1559.01,1208.99 1561.01,1209.04 C1563.02,1209.10 1565.03,1209.16 1567.04,1209.21 C1569.05,1209.27 1571.06,1209.32 1573.06,1209.37 C1575.07,1209.42 1577.08,1209.47 1579.09,1209.52 C1581.10,1209.56 1583.11,1209.61 1585.12,1209.65 C1587.12,1209.70 1589.13,1209.74 1591.14,1209.78 C1593.15,1209.82 1595.16,1209.86 1597.17,1209.89 C1599.18,1209.93 1601.19,1209.96 1603.20,1210.00 C1605.21,1210.03 1607.21,1210.06 1609.22,1210.09 C1611.23,1210.12 1613.24,1210.15 1615.25,1210.18 C1617.26,1210.20 1619.27,1210.23 1621.28,1210.25 C1623.29,1210.28 1625.30,1210.30 1627.31,1210.32 C1629.32,1210.34 1631.33,1210.36 1633.34,1210.38 C1635.35,1210.40 1637.36,1210.41 1639.37,1210.43 C1641.38,1210.44 1643.39,1210.46 1645.40,1210.47 C1647.41,1210.48 1649.42,1210.49 1651.43,1210.50 C1653.44,1210.51 1655.45,1210.52 1657.46,1210.53 C1659.47,1210.54 1661.48,1210.54 1663.49,1210.55 C1665.50,1210.55 1667.51,1210.56 1669.52,1210.56 C1671.53,1210.56 1673.54,1210.56 1675.55,1210.56 C1677.56,1210.56 1679.57,1210.56 1681.58,1210.56 C1683.59,1210.56 1685.60,1210.56 1687.61,1210.55 C1689.62,1210.55 1691.63,1210.55 1693.64,1210.54 C1695.65,1210.53 1697.66,1210.53 1699.67,1210.52 C1701.68,1210.51 1703.69,1210.50 1705.70,1210.50 C1707.71,1210.49 1709.72,1210.48 1711.73,1210.47 C1713.74,1210.45 1715.75,1210.44 1717.76,1210.43 C1719.77,1210.42 1721.78,1210.40 1723.79,1210.39 C1725.80,1210.38 1727.81,1210.36 1729.82,1210.35 C1731.83,1210.33 1733.84,1210.31 1735.85,1210.30 C1737.86,1210.28 1739.87,1210.26 1741.88,1210.25 C1743.89,1210.23 1745.90,1210.21 1747.91,1210.19 C1749.92,1210.17 1751.93,1210.15 1753.94,1210.13 C1755.95,1210.11 1757.96,1210.09 1759.97,1210.07 C1761.98,1210.05 1763.99,1210.03 1766.00,1210.01 C1768.01,1209.99 1770.02,1209.96 1772.03,1209.94 C1774.04,1209.92 1776.05,1209.89 1778.06,1209.87 C1780.07,1209.84 1782.08,1209.82 1784.09,1209.79 C1786.10,1209.76 1788.11,1209.74 1790.12,1209.71 C1792.13,1209.68 1794.14,1209.64 1796.15,1209.61 C1798.16,1209.58 1800.17,1209.54 1802.18,1209.50 C1804.19,1209.47 1806.20,1209.43 1808.21,1209.38 C1810.21,1209.34 1812.22,1209.30 1814.23,1209.25 C1816.24,1209.20 1818.25,1209.15 1820.26,1209.09 C1822.27,1209.04 1824.27,1208.98 1826.28,1208.92 C1828.29,1208.86 1830.30,1208.80 1832.31,1208.73 C1834.32,1208.66 1836.32,1208.59 1838.33,1208.52 C1840.34,1208.44 1842.35,1208.36 1844.35,1208.28 C1846.36,1208.19 1848.37,1208.10 1850.37,1208.01 C1852.38,1207.92 1854.39,1207.82 1856.39,1207.72 C1858.40,1207.61 1860.41,1207.51 1862.41,1207.39 C1864.42,1207.28 1866.42,1207.16 1868.43,1207.04 C1870.44,1206.92 1872.44,1206.79 1874.45,1206.65 C1876.45,1206.52 1878.46,1206.38 1880.46,1206.23 C1882.47,1206.08 1884.47,1205.93 1886.48,1205.77 C1888.48,1205.61 1890.48,1205.45 1892.49,1205.29 C1894.49,1205.12 1896.50,1204.95 1898.50,1204.77 C1900.50,1204.60 1902.51,1204.42 1904.51,1204.24 C1906.51,1204.06 1908.52,1203.88 1910.52,1203.69 C1912.52,1203.51 1914.53,1203.32 1916.53,1203.13 C1918.53,1202.94 1920.54,1202.75 1922.54,1202.56 C1924.54,1202.37 1926.54,1202.17 1928.55,1201.98 C1930.55,1201.79 1932.55,1201.60 1934.56,1201.40 C1936.56,1201.21 1938.56,1201.02 1940.56,1200.83 C1942.57,1200.64 1944.57,1200.45 1946.57,1200.26 C1948.58,1200.08 1950.58,1199.89 1952.58,1199.71 C1954.59,1199.53 1956.59,1199.35 1958.59,1199.17 C1960.60,1199.00 1962.60,1198.82 1964.61,1198.65 C1966.61,1198.48 1968.61,1198.32 1970.62,1198.16 C1972.62,1198.00 1974.63,1197.84 1976.63,1197.69 C1978.63,1197.54 1980.64,1197.40 1982.64,1197.26 C1984.65,1197.12 1986.65,1196.99 1988.66,1196.86 C1990.67,1196.74 1992.67,1196.62 1994.68,1196.51 C1996.68,1196.39 1998.69,1196.29 2000.70,1196.19 C2002.70,1196.09 2004.71,1196.00 2006.72,1195.92 C2008.72,1195.83 2010.73,1195.75 2012.74,1195.68 C2014.75,1195.61 2016.75,1195.54 2018.76,1195.48 C2020.77,1195.42 2022.78,1195.37 2024.79,1195.32 C2026.79,1195.28 2028.80,1195.23 2030.81,1195.20 C2032.82,1195.16 2034.83,1195.13 2036.84,1195.11 C2038.85,1195.08 2040.85,1195.07 2042.86,1195.05 C2044.87,1195.04 2046.88,1195.03 2048.89,1195.03 C2050.90,1195.03 2052.91,1195.03 2054.92,1195.04 C2056.93,1195.04 2058.94,1195.06 2060.95,1195.07 C2062.96,1195.09 2064.97,1195.11 2066.98,1195.14 C2068.99,1195.17 2071.00,1195.20 2073.01,1195.23 C2075.02,1195.27 2077.02,1195.31 2079.03,1195.35 C2081.04,1195.40 2083.05,1195.45 2085.06,1195.50 C2087.07,1195.55 2089.08,1195.61 2091.09,1195.67 C2093.10,1195.73 2095.11,1195.80 2097.12,1195.86 C2099.13,1195.93 2101.14,1196.00 2103.15,1196.08 C2105.16,1196.16 2107.17,1196.23 2109.18,1196.32 C2111.19,1196.40 2113.20,1196.49 2115.21,1196.57 C2117.21,1196.66 2119.22,1196.75 2121.23,1196.85 C2123.24,1196.94 2125.25,1197.04 2127.26,1197.14 C2129.27,1197.24 2131.28,1197.35 2133.28,1197.45 C2135.29,1197.56 2137.30,1197.67 2139.31,1197.78 C2141.32,1197.89 2143.32,1198.00 2145.33,1198.12 C2147.34,1198.23 2149.35,1198.35 2151.35,1198.47 C2153.36,1198.59 2155.37,1198.71 2157.37,1198.83 C2159.38,1198.95 2161.39,1199.08 2163.39,1199.21 C2165.40,1199.33 2167.41,1199.46 2169.41,1199.59 C2171.42,1199.72 2173.42,1199.85 2175.43,1199.98 C2177.43,1200.12 2179.44,1200.25 2181.44,1200.38 C2183.45,1200.52 2185.45,1200.65 2187.45,1200.79 C2189.46,1200.93 2191.46,1201.06 2193.46,1201.20 C2195.47,1201.34 2197.47,1201.52 2199.47,1201.62 C2201.48,1201.72 2204.50,1201.77 2205.50,1201.80 L2208.50,1190.00 L2211.00,1146.00" stroke="#ff0000" stroke-linecap="round"/>
<path d="M309.80,350.00 C309.82,351.00 309.89,354.01 309.94,356.01 C310.00,358.01 310.06,359.99 310.12,361.98 C310.17,363.97 310.23,365.97 310.28,367.96 C310.33,369.96 310.38,371.96 310.43,373.95 C310.48,375.95 310.53,377.95 310.57,379.96 C310.62,381.96 310.66,383.96 310.71,385.97 C310.75,387.97 310.79,389.98 310.83,391.98 C310.87,393.99 310.91,396.00 310.95,398.01 C310.99,400.02 311.03,402.03 311.07,404.04 C311.11,406.05 311.15,408.06 311.19,410.08 C311.23,412.09 311.27,414.10 311.30,416.12 C311.34,418.13 311.38,420.15 311.42,422.16 C311.46,424.18 311.50,426.20 311.54,428.21 C311.58,430.23 311.62,432.25 311.66,434.26 C311.71,436.28 311.75,438.30 311.79,440.32 C311.84,442.34 311.88,444.35 311.93,446.37 C311.98,448.39 312.02,450.41 312.07,452.43 C312.12,454.44 312.17,456.46 312.23,458.48 C312.28,460.50 312.33,462.52 312.39,464.53 C312.45,466.55 312.51,468.57 312.57,470.58 C312.63,472.60 312.70,474.62 312.76,476.63 C312.83,478.65 312.90,480.66 312.97,482.67 C313.04,484.69 313.12,486.70 313.20,488.71 C313.28,490.73 313.36,492.74 313.44,494.75 C313.53,496.76 313.62,498.77 313.71,500.77 C313.80,502.78 313.90,504.79 314.00,506.80 C314.10,508.80 314.20,510.81 314.31,512.81 C314.41,514.81 314.53,516.81 314.64,518.81 C314.76,520.81 314.88,522.81 315.00,524.81 C315.13,526.81 315.26,528.81 315.39,530.80 C315.52,532.80 315.66,534.79 315.80,536.78 C315.94,538.78 316.09,540.77 316.24,542.76 C316.39,544.75 316.54,546.74 316.70,548.73 C316.86,550.72 317.02,552.71 317.19,554.70 C317.35,556.68 317.53,558.67 317.70,560.66 C317.88,562.64 318.06,564.63 318.24,566.62 C318.42,568.60 318.61,570.59 318.80,572.57 C318.99,574.56 319.19,576.54 319.39,578.52 C319.59,580.51 319.79,582.49 320.00,584.47 C320.21,586.46 320.42,588.44 320.64,590.43 C320.86,592.41 321.08,594.39 321.30,596.38 C321.53,598.36 321.76,600.34 321.99,602.33 C322.23,604.31 322.46,606.29 322.70,608.28 C322.95,610.26 323.19,612.25 323.44,614.23 C323.69,616.22 323.95,618.20 324.20,620.19 C324.46,622.18 324.72,624.16 324.99,626.15 C325.26,628.14 325.53,630.12 325.80,632.11 C326.08,634.10 326.36,636.09 326.64,638.08 C326.92,640.07 327.21,642.06 327.50,644.06 C327.79,646.05 328.09,648.04 328.38,650.03 C328.68,652.03 328.99,654.02 329.29,656.02 C329.60,658.02 329.91,660.02 330.23,662.01 C330.54,664.01 330.86,666.01 331.19,668.02 C331.51,670.02 331.84,672.02 332.17,674.03 C332.50,676.03 332.84,678.04 333.18,680.05 C333.52,682.05 333.86,684.06 334.21,686.07 C334.56,688.09 334.91,690.10 335.27,692.11 C335.64,694.12 336.00,696.13 336.38,698.14 C336.77,700.14 337.15,702.15 337.56,704.15 C337.96,706.15 338.38,708.14 338.81,710.13 C339.24,712.12 339.69,714.10 340.16,716.07 C340.62,718.05 341.11,720.01 341.61,721.97 C342.12,723.92 342.64,725.87 343.19,727.80 C343.74,729.73 344.31,731.65 344.91,733.56 C345.51,735.47 346.13,737.36 346.79,739.24 C347.44,741.12 348.12,742.98 348.83,744.82 C349.54,746.67 350.29,748.49 351.06,750.30 C351.84,752.11 352.65,753.90 353.50,755.66 C354.35,757.43 355.23,759.18 356.15,760.90 C357.07,762.62 358.03,764.32 359.04,766.00 C360.04,767.67 361.08,769.32 362.17,770.95 C363.26,772.57 364.39,774.17 365.57,775.74 C366.74,777.30 367.97,778.84 369.24,780.36 C370.51,781.87 371.82,783.35 373.17,784.81 C374.52,786.27 375.91,787.71 377.33,789.12 C378.75,790.53 380.21,791.91 381.69,793.28 C383.17,794.64 384.69,795.98 386.23,797.31 C387.76,798.63 389.33,799.93 390.91,801.21 C392.49,802.50 394.09,803.76 395.71,805.01 C397.33,806.26 398.96,807.49 400.60,808.71 C402.24,809.92 403.90,811.12 405.56,812.31 C407.21,813.50 408.88,814.67 410.55,815.84 C412.21,817.00 413.89,818.15 415.56,819.29 C417.23,820.43 418.91,821.56 420.59,822.68 C422.27,823.81 423.95,824.92 425.63,826.02 C427.31,827.13 429.00,828.23 430.69,829.32 C432.37,830.41 434.06,831.49 435.75,832.57 C437.44,833.66 439.13,834.73 440.82,835.80 C442.51,836.88 444.20,837.94 445.89,839.01 C447.58,840.08 449.27,841.14 450.96,842.21 C452.65,843.27 454.34,844.34 456.03,845.40 C457.72,846.47 459.41,847.53 461.10,848.60 C462.78,849.67 464.47,850.74 466.15,851.81 C467.84,852.89 469.52,853.96 471.20,855.05 C472.88,856.13 474.55,857.22 476.23,858.31 C477.90,859.40 479.57,860.50 481.25,861.60 C482.92,862.70 484.59,863.80 486.25,864.91 C487.92,866.01 489.59,867.13 491.25,868.24 C492.92,869.35 494.58,870.47 496.24,871.59 C497.90,872.71 499.56,873.83 501.23,874.95 C502.89,876.07 504.55,877.20 506.21,878.33 C507.87,879.45 509.52,880.58 511.18,881.71 C512.84,882.84 514.50,883.97 516.16,885.10 C517.82,886.23 519.48,887.36 521.14,888.49 C522.80,889.62 524.46,890.75 526.12,891.88 C527.78,893.01 529.44,894.14 531.10,895.27 C532.76,896.40 534.42,897.53 536.09,898.65 C537.75,899.78 539.42,900.90 541.08,902.02 C542.75,903.15 544.42,904.27 546.09,905.38 C547.76,906.50 549.43,907.62 551.10,908.73 C552.78,909.84 554.45,910.95 556.13,912.05 C557.81,913.16 559.49,914.26 561.17,915.36 C562.85,916.46 564.54,917.55 566.23,918.64 C567.92,919.73 569.61,920.81 571.30,921.89 C572.99,922.97 574.69,924.05 576.39,925.11 C578.09,926.18 579.80,927.25 581.50,928.30 C583.21,929.36 584.92,930.41 586.64,931.46 C588.35,932.50 590.07,933.54 591.79,934.57 C593.52,935.60 595.24,936.62 596.98,937.64 C598.71,938.66 600.44,939.67 602.18,940.67 C603.92,941.67 605.67,942.66 607.42,943.64 C609.17,944.63 610.93,945.60 612.69,946.57 C614.45,947.54 616.21,948.49 617.99,949.44 C619.76,950.39 621.53,951.33 623.31,952.27 C625.09,953.20 626.87,954.13 628.66,955.06 C630.44,955.98 632.23,956.90 634.02,957.82 C635.81,958.73 637.60,959.65 639.39,960.56 C641.18,961.48 642.98,962.39 644.77,963.30 C646.56,964.22 648.35,965.13 650.13,966.05 C651.92,966.97 653.71,967.89 655.49,968.82 C657.28,969.74 659.06,970.67 660.84,971.61 C662.61,972.54 664.39,973.49 666.15,974.44 C667.92,975.39 669.69,976.35 671.44,977.32 C673.20,978.29 674.95,979.27 676.70,980.26 C678.44,981.25 680.18,982.26 681.91,983.27 C683.64,984.29 685.36,985.32 687.07,986.36 C688.79,987.40 690.49,988.46 692.19,989.52 C693.90,990.58 695.59,991.66 697.28,992.74 C698.97,993.83 700.65,994.92 702.32,996.03 C704.00,997.13 705.67,998.24 707.34,999.37 C709.01,1000.49 710.67,1001.61 712.32,1002.75 C713.98,1003.89 715.63,1005.03 717.28,1006.18 C718.93,1007.33 720.57,1008.48 722.21,1009.64 C723.86,1010.80 725.49,1011.97 727.13,1013.13 C728.76,1014.30 730.40,1015.48 732.03,1016.65 C733.66,1017.83 735.28,1019.01 736.91,1020.19 C738.53,1021.37 740.16,1022.55 741.78,1023.74 C743.40,1024.92 745.02,1026.11 746.64,1027.30 C748.26,1028.48 749.88,1029.67 751.50,1030.86 C753.12,1032.04 754.74,1033.23 756.36,1034.41 C757.98,1035.59 759.60,1036.77 761.22,1037.95 C762.84,1039.13 764.47,1040.31 766.09,1041.48 C767.71,1042.66 769.34,1043.83 770.96,1045.00 C772.58,1046.17 774.21,1047.33 775.84,1048.50 C777.46,1049.67 779.09,1050.83 780.72,1051.99 C782.35,1053.15 783.98,1054.31 785.61,1055.47 C787.24,1056.62 788.88,1057.78 790.51,1058.93 C792.15,1060.08 793.78,1061.24 795.42,1062.38 C797.06,1063.53 798.70,1064.68 800.34,1065.83 C801.98,1066.98 803.62,1068.12 805.26,1069.26 C806.91,1070.41 808.55,1071.55 810.20,1072.69 C811.85,1073.83 813.50,1074.97 815.15,1076.11 C816.81,1077.25 818.46,1078.38 820.12,1079.52 C821.77,1080.66 823.43,1081.79 825.09,1082.92 C826.75,1084.06 828.42,1085.19 830.08,1086.32 C831.75,1087.45 833.41,1088.58 835.08,1089.72 C836.75,1090.85 838.43,1091.98 840.10,1093.10 C841.78,1094.23 843.46,1095.36 845.14,1096.49 C846.82,1097.61 848.50,1098.73 850.19,1099.84 C851.89,1100.95 853.58,1102.06 855.28,1103.15 C856.98,1104.24 858.69,1105.33 860.41,1106.39 C862.12,1107.46 863.84,1108.51 865.57,1109.54 C867.30,1110.57 869.04,1111.58 870.79,1112.57 C872.54,1113.56 874.30,1114.53 876.07,1115.46 C877.84,1116.40 879.62,1117.31 881.41,1118.19 C883.21,1119.07 885.01,1119.93 886.83,1120.74 C888.65,1121.56 890.48,1122.34 892.33,1123.08 C894.17,1123.82 896.04,1124.53 897.91,1125.19 C899.79,1125.86 901.68,1126.48 903.59,1127.07 C905.49,1127.65 907.41,1128.20 909.34,1128.72 C911.27,1129.24 913.22,1129.72 915.17,1130.18 C917.12,1130.64 919.09,1131.07 921.06,1131.48 C923.03,1131.88 925.01,1132.26 927.00,1132.63 C928.99,1133.00 930.99,1133.34 932.98,1133.67 C934.98,1134.00 936.99,1134.31 939.00,1134.62 C941.01,1134.92 943.02,1135.21 945.03,1135.50 C947.05,1135.79 949.06,1136.07 951.08,1136.35 C953.09,1136.63 955.11,1136.91 957.13,1137.19 C959.14,1137.47 961.15,1137.74 963.16,1138.03 C965.17,1138.32 967.18,1138.62 969.18,1138.92 C971.18,1139.23 973.18,1139.54 975.17,1139.87 C977.16,1140.21 979.15,1140.55 981.12,1140.92 C983.09,1141.29 985.06,1141.68 987.00,1142.10 C988.95,1142.53 990.89,1142.98 992.80,1143.47 C994.71,1143.97 996.60,1144.50 998.47,1145.08 C1000.34,1145.66 1002.19,1146.28 1004.00,1146.97 C1005.82,1147.65 1007.61,1148.39 1009.37,1149.19 C1011.12,1149.99 1012.84,1150.86 1014.53,1151.79 C1016.22,1152.72 1017.88,1153.72 1019.50,1154.77 C1021.13,1155.82 1022.72,1156.93 1024.29,1158.09 C1025.86,1159.25 1027.40,1160.46 1028.92,1161.71 C1030.44,1162.97 1031.93,1164.27 1033.40,1165.60 C1034.87,1166.93 1036.32,1168.31 1037.76,1169.71 C1039.19,1171.11 1040.61,1172.55 1042.01,1174.01 C1043.41,1175.46 1044.79,1176.95 1046.17,1178.45 C1047.54,1179.94 1048.90,1181.46 1050.26,1182.99 C1051.61,1184.51 1052.95,1186.05 1054.29,1187.59 C1055.63,1189.13 1056.96,1190.68 1058.30,1192.22 C1059.63,1193.77 1060.95,1195.31 1062.28,1196.85 C1063.61,1198.39 1064.94,1199.92 1066.27,1201.45 C1067.60,1202.97 1068.93,1204.50 1070.27,1206.01 C1071.61,1207.52 1072.96,1209.02 1074.31,1210.51 C1075.66,1212.00 1077.02,1213.48 1078.40,1214.94 C1079.77,1216.41 1081.15,1217.86 1082.55,1219.29 C1083.95,1220.72 1085.36,1222.14 1086.79,1223.54 C1088.22,1224.94 1089.66,1226.32 1091.13,1227.67 C1092.59,1229.03 1094.08,1230.36 1095.58,1231.67 C1097.09,1232.98 1098.62,1234.27 1100.17,1235.52 C1101.73,1236.78 1103.31,1238.01 1104.91,1239.22 C1106.52,1240.42 1108.15,1241.59 1109.80,1242.74 C1111.46,1243.89 1113.13,1245.01 1114.83,1246.11 C1116.52,1247.20 1118.24,1248.27 1119.97,1249.31 C1121.70,1250.36 1123.46,1251.37 1125.22,1252.37 C1126.99,1253.36 1128.77,1254.33 1130.56,1255.27 C1132.36,1256.22 1134.17,1257.13 1135.98,1258.03 C1137.80,1258.93 1139.63,1259.80 1141.47,1260.65 C1143.30,1261.50 1145.15,1262.32 1147.00,1263.13 C1148.85,1263.93 1150.70,1264.72 1152.57,1265.48 C1154.43,1266.24 1156.30,1266.98 1158.17,1267.70 C1160.04,1268.42 1161.92,1269.12 1163.81,1269.81 C1165.69,1270.49 1167.58,1271.15 1169.47,1271.80 C1171.37,1272.44 1173.27,1273.07 1175.17,1273.68 C1177.08,1274.29 1178.98,1274.89 1180.90,1275.47 C1182.81,1276.04 1184.73,1276.61 1186.65,1277.16 C1188.57,1277.70 1190.50,1278.24 1192.43,1278.76 C1194.36,1279.28 1196.29,1279.78 1198.23,1280.28 C1200.16,1280.77 1202.10,1281.25 1204.05,1281.72 C1205.99,1282.19 1207.94,1282.65 1209.89,1283.09 C1211.84,1283.54 1213.79,1283.98 1215.74,1284.40 C1217.70,1284.83 1219.66,1285.25 1221.62,1285.66 C1223.58,1286.07 1225.54,1286.47 1227.51,1286.86 C1229.47,1287.26 1231.44,1287.64 1233.41,1288.02 C1235.38,1288.40 1237.35,1288.77 1239.32,1289.14 C1241.29,1289.51 1243.26,1289.87 1245.24,1290.23 C1247.21,1290.59 1249.19,1290.94 1251.17,1291.30 C1253.14,1291.65 1255.12,1291.99 1257.10,1292.34 C1259.08,1292.69 1261.06,1293.03 1263.04,1293.37 C1265.01,1293.72 1266.99,1294.06 1268.97,1294.40 C1270.95,1294.74 1272.93,1295.08 1274.91,1295.42 C1276.89,1295.76 1278.87,1296.11 1280.85,1296.45 C1282.83,1296.79 1284.81,1297.13 1286.79,1297.47 C1288.77,1297.81 1290.75,1298.16 1292.73,1298.50 C1294.71,1298.84 1296.69,1299.18 1298.67,1299.52 C1300.65,1299.86 1302.63,1300.20 1304.61,1300.54 C1306.59,1300.88 1308.57,1301.22 1310.55,1301.56 C1312.53,1301.90 1314.51,1302.24 1316.49,1302.58 C1318.47,1302.92 1320.45,1303.26 1322.43,1303.59 C1324.42,1303.93 1326.40,1304.27 1328.38,1304.61 C1330.36,1304.94 1332.34,1305.28 1334.32,1305.61 C1336.30,1305.95 1338.28,1306.28 1340.26,1306.61 C1342.24,1306.95 1344.22,1307.28 1346.21,1307.61 C1348.19,1307.94 1350.17,1308.27 1352.15,1308.60 C1354.13,1308.93 1356.11,1309.26 1358.10,1309.59 C1360.08,1309.92 1362.06,1310.24 1364.04,1310.57 C1366.02,1310.89 1368.01,1311.22 1369.99,1311.54 C1371.97,1311.86 1373.95,1312.18 1375.94,1312.50 C1377.92,1312.82 1379.90,1313.14 1381.89,1313.46 C1383.87,1313.77 1385.85,1314.09 1387.84,1314.40 C1389.82,1314.72 1391.80,1315.03 1393.79,1315.34 C1395.77,1315.65 1397.76,1315.96 1399.74,1316.27 C1401.72,1316.58 1403.71,1316.88 1405.69,1317.19 C1407.68,1317.49 1409.66,1317.79 1411.65,1318.09 C1413.63,1318.39 1415.62,1318.69 1417.61,1318.99 C1419.59,1319.29 1421.58,1319.58 1423.56,1319.87 C1425.55,1320.17 1427.54,1320.46 1429.52,1320.74 C1431.51,1321.03 1433.50,1321.32 1435.48,1321.60 C1437.47,1321.89 1439.46,1322.17 1441.45,1322.45 C1443.43,1322.73 1445.42,1323.01 1447.41,1323.28 C1449.40,1323.56 1451.39,1323.83 1453.38,1324.10 C1455.37,1324.37 1457.36,1324.64 1459.35,1324.90 C1461.34,1325.17 1463.33,1325.43 1465.32,1325.69 C1467.31,1325.95 1469.30,1326.20 1471.29,1326.46 C1473.28,1326.71 1475.27,1326.97 1477.26,1327.22 C1479.25,1327.47 1481.24,1327.71 1483.24,1327.96 C1485.23,1328.20 1487.22,1328.45 1489.21,1328.69 C1491.21,1328.93 1493.20,1329.17 1495.19,1329.40 C1497.18,1329.64 1499.18,1329.87 1501.17,1330.10 C1503.16,1330.33 1505.16,1330.56 1507.15,1330.79 C1509.15,1331.02 1511.14,1331.24 1513.14,1331.46 C1515.13,1331.68 1517.13,1331.90 1519.12,1332.12 C1521.12,1332.34 1523.11,1332.56 1525.11,1332.77 C1527.10,1332.98 1529.10,1333.20 1531.09,1333.41 C1533.09,1333.61 1535.09,1333.82 1537.08,1334.03 C1539.08,1334.23 1541.08,1334.44 1543.07,1334.64 C1545.07,1334.84 1547.07,1335.04 1549.07,1335.24 C1551.06,1335.44 1553.06,1335.63 1555.06,1335.83 C1557.06,1336.02 1559.05,1336.21 1561.05,1336.40 C1563.05,1336.59 1565.05,1336.78 1567.05,1336.97 C1569.04,1337.16 1571.04,1337.34 1573.04,1337.52 C1575.04,1337.71 1577.04,1337.89 1579.04,1338.07 C1581.04,1338.25 1583.04,1338.43 1585.04,1338.60 C1587.04,1338.78 1589.04,1338.96 1591.04,1339.13 C1593.04,1339.30 1595.04,1339.47 1597.04,1339.64 C1599.04,1339.81 1601.04,1339.98 1603.04,1340.15 C1605.04,1340.32 1607.04,1340.48 1609.04,1340.65 C1611.04,1340.81 1613.04,1340.98 1615.04,1341.14 C1617.04,1341.30 1619.04,1341.46 1621.04,1341.62 C1623.04,1341.78 1625.05,1341.93 1627.05,1342.09 C1629.05,1342.24 1631.05,1342.40 1633.05,1342.55 C1635.05,1342.71 1637.06,1342.86 1639.06,1343.01 C1641.06,1343.16 1643.06,1343.31 1645.06,1343.46 C1647.06,1343.61 1649.07,1343.75 1651.07,1343.90 C1653.07,1344.04 1655.07,1344.19 1657.08,1344.33 C1659.08,1344.48 1661.08,1344.62 1663.08,1344.76 C1665.09,1344.90 1667.09,1345.04 1669.09,1345.18 C1671.09,1345.32 1673.10,1345.46 1675.10,1345.60 C1677.10,1345.73 1679.11,1345.87 1681.11,1346.00 C1683.11,1346.14 1685.11,1346.27 1687.12,1346.41 C1689.12,1346.54 1691.12,1346.67 1693.13,1346.80 C1695.13,1346.94 1697.14,1347.07 1699.14,1347.20 C1701.14,1347.33 1703.15,1347.45 1705.15,1347.58 C1707.15,1347.71 1709.16,1347.84 1711.16,1347.96 C1713.16,1348.09 1715.17,1348.22 1717.17,1348.34 C1719.18,1348.47 1721.18,1348.59 1723.19,1348.71 C1725.19,1348.84 1727.19,1348.96 1729.20,1349.08 C1731.20,1349.20 1733.21,1349.33 1735.21,1349.45 C1737.22,1349.57 1739.22,1349.69 1741.22,1349.81 C1743.23,1349.93 1745.23,1350.05 1747.24,1350.16 C1749.24,1350.28 1751.25,1350.40 1753.25,1350.52 C1755.26,1350.64 1757.26,1350.75 1759.27,1350.87 C1761.27,1350.99 1763.28,1351.10 1765.28,1351.22 C1767.29,1351.33 1769.29,1351.45 1771.30,1351.56 C1773.30,1351.68 1775.31,1351.79 1777.31,1351.91 C1779.32,1352.02 1781.32,1352.13 1783.33,1352.25 C1785.33,1352.36 1787.34,1352.47 1789.34,1352.59 C1791.35,1352.70 1793.35,1352.81 1795.36,1352.92 C1797.36,1353.04 1799.37,1353.15 1801.37,1353.26 C1803.38,1353.37 1805.38,1353.48 1807.39,1353.60 C1809.39,1353.71 1811.40,1353.82 1813.40,1353.93 C1815.41,1354.04 1817.42,1354.15 1819.42,1354.26 C1821.43,1354.37 1823.43,1354.49 1825.44,1354.60 C1827.44,1354.71 1829.45,1354.82 1831.45,1354.93 C1833.46,1355.04 1835.46,1355.15 1837.47,1355.26 C1839.48,1355.37 1841.48,1355.49 1843.49,1355.60 C1845.49,1355.71 1847.50,1355.82 1849.50,1355.93 C1851.51,1356.04 1853.51,1356.15 1855.52,1356.27 C1857.52,1356.38 1859.53,1356.49 1861.54,1356.60 C1863.54,1356.71 1865.55,1356.83 1867.55,1356.94 C1869.56,1357.05 1871.56,1357.17 1873.57,1357.28 C1875.57,1357.39 1877.58,1357.51 1879.58,1357.62 C1881.59,1357.74 1883.59,1357.85 1885.60,1357.96 C1887.60,1358.08 1889.61,1358.20 1891.62,1358.31 C1893.62,1358.43 1895.63,1358.54 1897.63,1358.66 C1899.64,1358.78 1901.64,1358.89 1903.65,1359.01 C1905.65,1359.13 1907.66,1359.25 1909.66,1359.37 C1911.67,1359.49 1913.67,1359.61 1915.67,1359.73 C1917.68,1359.85 1919.68,1359.97 1921.69,1360.09 C1923.69,1360.21 1925.70,1360.33 1927.70,1360.45 C1929.71,1360.58 1931.71,1360.70 1933.72,1360.83 C1935.72,1360.95 1937.73,1361.07 1939.73,1361.20 C1941.73,1361.33 1943.74,1361.45 1945.74,1361.58 C1947.75,1361.71 1949.75,1361.84 1951.75,1361.97 C1953.76,1362.10 1955.76,1362.23 1957.77,1362.36 C1959.77,1362.49 1961.77,1362.62 1963.78,1362.75 C1965.78,1362.89 1967.78,1363.02 1969.79,1363.15 C1971.79,1363.29 1973.79,1363.43 1975.80,1363.56 C1977.80,1363.70 1979.80,1363.84 1981.81,1363.98 C1983.81,1364.12 1985.81,1364.26 1987.82,1364.40 C1989.82,1364.54 1991.82,1364.68 1993.83,1364.83 C1995.83,1364.97 1997.83,1365.12 1999.83,1365.26 C2001.84,1365.41 2003.84,1365.56 2005.84,1365.70 C2007.84,1365.85 2009.84,1366.00 2011.85,1366.15 C2013.85,1366.31 2015.85,1366.46 2017.85,1366.61 C2019.85,1366.77 2021.86,1366.92 2023.86,1367.08 C2025.86,1367.24 2027.86,1367.39 2029.86,1367.55 C2031.86,1367.71 2033.86,1367.87 2035.86,1368.04 C2037.87,1368.20 2039.87,1368.36 2041.87,1368.53 C2043.87,1368.69 2045.87,1368.86 2047.87,1369.03 C2049.87,1369.20 2051.87,1369.37 2053.87,1369.54 C2055.87,1369.71 2057.87,1369.89 2059.87,1370.06 C2061.87,1370.24 2063.87,1370.41 2065.87,1370.59 C2067.87,1370.77 2069.87,1370.95 2071.87,1371.13 C2073.87,1371.32 2075.86,1371.50 2077.86,1371.69 C2079.86,1371.87 2081.86,1372.06 2083.86,1372.25 C2085.86,1372.44 2087.86,1372.63 2089.85,1372.82 C2091.85,1373.01 2093.85,1373.21 2095.85,1373.41 C2097.85,1373.60 2099.84,1373.80 2101.84,1374.00 C2103.84,1374.20 2105.84,1374.41 2107.83,1374.61 C2109.83,1374.82 2111.83,1375.02 2113.82,1375.23 C2115.82,1375.44 2117.82,1375.65 2119.81,1375.86 C2121.81,1376.08 2123.81,1376.29 2125.80,1376.51 C2127.80,1376.73 2129.79,1376.94 2131.79,1377.17 C2133.78,1377.39 2135.78,1377.61 2137.77,1377.84 C2139.77,1378.06 2141.76,1378.29 2143.76,1378.52 C2145.75,1378.75 2147.75,1378.98 2149.74,1379.22 C2151.74,1379.45 2153.73,1379.69 2155.72,1379.93 C2157.72,1380.17 2159.71,1380.41 2161.70,1380.66 C2163.70,1380.90 2165.69,1381.15 2167.68,1381.40 C2169.68,1381.65 2171.67,1381.90 2173.66,1382.15 C2175.65,1382.41 2177.65,1382.66 2179.64,1382.92 C2181.63,1383.18 2183.62,1383.44 2185.61,1383.71 C2187.61,1383.97 2189.60,1384.24 2191.59,1384.51 C2193.58,1384.78 2195.57,1385.01 2197.56,1385.33 C2199.54,1385.64 2202.51,1386.22 2203.50,1386.40 L2209.20,1358.80 L2215.00,1264.00 L2219.00,1000.00 L2221.00,420.00" stroke="#0000ff"/>
<path d="M309.80,348.00 C309.85,348.98 310.04,351.89 310.09,353.89 C310.14,355.88 310.10,357.95 310.11,359.98 C310.12,362.00 310.13,364.03 310.14,366.06 C310.15,368.08 310.17,370.11 310.18,372.13 C310.20,374.16 310.21,376.18 310.23,378.20 C310.25,380.22 310.27,382.24 310.29,384.26 C310.31,386.28 310.33,388.30 310.36,390.31 C310.38,392.33 310.41,394.35 310.44,396.36 C310.47,398.37 310.50,400.39 310.53,402.40 C310.56,404.41 310.59,406.43 310.63,408.44 C310.67,410.45 310.70,412.46 310.74,414.47 C310.78,416.48 310.82,418.48 310.87,420.49 C310.91,422.50 310.95,424.50 311.00,426.51 C311.05,428.52 311.10,430.52 311.15,432.53 C311.20,434.53 311.25,436.53 311.31,438.54 C311.36,440.54 311.42,442.54 311.48,444.55 C311.54,446.55 311.60,448.55 311.66,450.55 C311.73,452.55 311.79,454.55 311.86,456.55 C311.93,458.55 312.00,460.55 312.07,462.55 C312.14,464.55 312.22,466.55 312.29,468.54 C312.37,470.54 312.45,472.54 312.53,474.54 C312.61,476.53 312.69,478.53 312.78,480.53 C312.86,482.53 312.95,484.52 313.04,486.52 C313.13,488.51 313.22,490.51 313.32,492.51 C313.41,494.50 313.51,496.50 313.61,498.49 C313.71,500.49 313.81,502.49 313.91,504.48 C314.02,506.48 314.12,508.47 314.23,510.47 C314.34,512.46 314.45,514.46 314.57,516.45 C314.68,518.45 314.80,520.44 314.92,522.44 C315.04,524.44 315.16,526.43 315.28,528.43 C315.41,530.42 315.53,532.42 315.66,534.42 C315.79,536.41 315.92,538.41 316.06,540.41 C316.19,542.40 316.33,544.40 316.47,546.40 C316.61,548.39 316.75,550.39 316.90,552.39 C317.04,554.39 317.19,556.39 317.34,558.38 C317.49,560.38 317.64,562.38 317.80,564.38 C317.96,566.38 318.12,568.38 318.28,570.38 C318.44,572.38 318.60,574.39 318.77,576.39 C318.94,578.39 319.11,580.39 319.28,582.39 C319.46,584.40 319.63,586.40 319.81,588.41 C319.99,590.41 320.17,592.41 320.36,594.42 C320.54,596.43 320.73,598.43 320.92,600.44 C321.11,602.45 321.31,604.45 321.50,606.46 C321.70,608.47 321.90,610.48 322.10,612.49 C322.31,614.50 322.51,616.52 322.72,618.53 C322.93,620.54 323.14,622.55 323.36,624.57 C323.57,626.58 323.79,628.60 324.01,630.61 C324.24,632.63 324.46,634.65 324.69,636.67 C324.92,638.69 325.15,640.71 325.39,642.73 C325.62,644.74 325.86,646.76 326.11,648.78 C326.36,650.80 326.62,652.82 326.88,654.84 C327.14,656.85 327.41,658.87 327.70,660.88 C327.98,662.89 328.27,664.90 328.57,666.91 C328.87,668.92 329.19,670.92 329.51,672.92 C329.84,674.92 330.18,676.91 330.53,678.90 C330.89,680.89 331.26,682.88 331.64,684.86 C332.03,686.84 332.43,688.81 332.85,690.77 C333.26,692.74 333.70,694.70 334.15,696.65 C334.61,698.60 335.08,700.55 335.58,702.49 C336.07,704.42 336.59,706.35 337.13,708.27 C337.67,710.19 338.22,712.10 338.81,713.99 C339.39,715.89 340.00,717.78 340.63,719.66 C341.27,721.54 341.93,723.40 342.61,725.26 C343.30,727.11 344.01,728.96 344.75,730.79 C345.49,732.62 346.26,734.44 347.06,736.24 C347.86,738.05 348.69,739.84 349.55,741.61 C350.41,743.39 351.31,745.15 352.23,746.90 C353.16,748.65 354.12,750.38 355.11,752.09 C356.11,753.81 357.14,755.51 358.20,757.19 C359.27,758.87 360.37,760.54 361.50,762.18 C362.63,763.83 363.80,765.46 365.00,767.07 C366.20,768.68 367.43,770.26 368.70,771.83 C369.96,773.40 371.25,774.94 372.57,776.46 C373.89,777.99 375.24,779.49 376.62,780.96 C377.99,782.43 379.39,783.89 380.82,785.31 C382.25,786.73 383.70,788.13 385.18,789.50 C386.65,790.87 388.15,792.22 389.67,793.53 C391.19,794.85 392.74,796.13 394.30,797.39 C395.86,798.65 397.44,799.88 399.04,801.09 C400.64,802.30 402.26,803.48 403.89,804.64 C405.52,805.81 407.17,806.95 408.82,808.07 C410.48,809.20 412.16,810.30 413.84,811.39 C415.52,812.49 417.21,813.56 418.92,814.63 C420.62,815.69 422.33,816.74 424.04,817.79 C425.76,818.83 427.48,819.87 429.21,820.90 C430.93,821.93 432.67,822.95 434.40,823.97 C436.13,824.99 437.86,826.00 439.60,827.02 C441.33,828.04 443.07,829.05 444.80,830.07 C446.53,831.08 448.27,832.10 450.00,833.11 C451.74,834.12 453.47,835.14 455.21,836.15 C456.94,837.16 458.68,838.17 460.41,839.17 C462.15,840.18 463.89,841.18 465.62,842.19 C467.36,843.19 469.10,844.19 470.84,845.19 C472.58,846.19 474.32,847.19 476.06,848.18 C477.80,849.18 479.54,850.17 481.29,851.16 C483.03,852.15 484.77,853.14 486.52,854.12 C488.27,855.10 490.01,856.08 491.76,857.06 C493.51,858.04 495.26,859.01 497.02,859.98 C498.77,860.95 500.52,861.92 502.28,862.88 C504.03,863.84 505.79,864.80 507.55,865.76 C509.31,866.71 511.07,867.66 512.84,868.61 C514.60,869.56 516.37,870.50 518.14,871.44 C519.90,872.37 521.68,873.31 523.45,874.24 C525.22,875.16 527.00,876.09 528.78,877.00 C530.56,877.92 532.34,878.84 534.12,879.74 C535.91,880.65 537.69,881.55 539.48,882.45 C541.27,883.34 543.06,884.23 544.86,885.12 C546.66,886.00 548.46,886.88 550.26,887.75 C552.06,888.63 553.87,889.49 555.67,890.35 C557.48,891.21 559.30,892.07 561.11,892.91 C562.93,893.76 564.75,894.60 566.57,895.43 C568.40,896.26 570.22,897.09 572.05,897.91 C573.89,898.73 575.72,899.54 577.56,900.34 C579.40,901.14 581.24,901.94 583.09,902.73 C584.93,903.52 586.78,904.30 588.64,905.08 C590.49,905.86 592.35,906.63 594.20,907.40 C596.06,908.17 597.92,908.93 599.79,909.69 C601.65,910.44 603.52,911.20 605.38,911.95 C607.25,912.70 609.12,913.45 610.99,914.19 C612.86,914.94 614.73,915.68 616.61,916.42 C618.48,917.16 620.35,917.90 622.23,918.64 C624.10,919.38 625.97,920.12 627.85,920.85 C629.72,921.59 631.60,922.33 633.47,923.07 C635.35,923.80 637.22,924.54 639.09,925.28 C640.96,926.02 642.84,926.76 644.71,927.51 C646.58,928.25 648.45,929.00 650.32,929.75 C652.18,930.49 654.05,931.25 655.91,932.00 C657.78,932.76 659.64,933.52 661.50,934.28 C663.36,935.05 665.21,935.82 667.07,936.59 C668.92,937.36 670.77,938.14 672.62,938.93 C674.47,939.72 676.31,940.51 678.15,941.31 C679.99,942.11 681.83,942.91 683.66,943.73 C685.49,944.54 687.32,945.36 689.14,946.19 C690.96,947.03 692.78,947.86 694.60,948.71 C696.41,949.56 698.22,950.42 700.02,951.29 C701.82,952.16 703.62,953.03 705.41,953.92 C707.20,954.81 708.99,955.71 710.76,956.62 C712.54,957.54 714.31,958.46 716.08,959.40 C717.84,960.33 719.60,961.28 721.35,962.24 C723.10,963.21 724.85,964.18 726.59,965.17 C728.32,966.15 730.05,967.15 731.78,968.16 C733.51,969.17 735.22,970.19 736.94,971.22 C738.65,972.25 740.36,973.29 742.06,974.34 C743.77,975.39 745.47,976.45 747.16,977.52 C748.85,978.58 750.54,979.66 752.23,980.74 C753.91,981.82 755.59,982.92 757.27,984.01 C758.95,985.11 760.62,986.21 762.30,987.32 C763.97,988.43 765.63,989.55 767.30,990.66 C768.97,991.78 770.63,992.91 772.29,994.04 C773.95,995.16 775.61,996.30 777.27,997.43 C778.93,998.57 780.58,999.71 782.24,1000.85 C783.89,1001.99 785.54,1003.13 787.20,1004.27 C788.85,1005.42 790.50,1006.56 792.16,1007.71 C793.81,1008.85 795.46,1010.00 797.11,1011.14 C798.77,1012.29 800.42,1013.43 802.07,1014.58 C803.73,1015.72 805.38,1016.86 807.04,1018.00 C808.69,1019.14 810.35,1020.28 812.01,1021.41 C813.67,1022.55 815.33,1023.68 816.99,1024.81 C818.66,1025.93 820.32,1027.06 821.99,1028.18 C823.66,1029.29 825.33,1030.41 827.01,1031.52 C828.68,1032.62 830.36,1033.73 832.04,1034.82 C833.73,1035.92 835.41,1037.01 837.10,1038.09 C838.79,1039.17 840.49,1040.24 842.18,1041.31 C843.88,1042.37 845.59,1043.43 847.30,1044.48 C849.01,1045.52 850.72,1046.56 852.44,1047.59 C854.16,1048.62 855.89,1049.64 857.62,1050.64 C859.35,1051.65 861.09,1052.65 862.84,1053.63 C864.58,1054.61 866.33,1055.59 868.09,1056.55 C869.85,1057.50 871.62,1058.45 873.39,1059.38 C875.17,1060.32 876.95,1061.24 878.74,1062.14 C880.53,1063.04 882.33,1063.93 884.13,1064.81 C885.94,1065.68 887.75,1066.54 889.57,1067.38 C891.40,1068.23 893.23,1069.05 895.06,1069.86 C896.90,1070.67 898.75,1071.46 900.60,1072.23 C902.46,1073.00 904.32,1073.76 906.19,1074.49 C908.06,1075.22 909.94,1075.94 911.82,1076.63 C913.71,1077.33 915.60,1078.00 917.50,1078.65 C919.40,1079.31 921.31,1079.94 923.23,1080.55 C925.14,1081.16 927.07,1081.74 929.00,1082.30 C930.93,1082.87 932.87,1083.41 934.82,1083.92 C936.76,1084.44 938.72,1084.93 940.68,1085.39 C942.64,1085.86 944.61,1086.30 946.59,1086.71 C948.57,1087.13 950.55,1087.51 952.54,1087.88 C954.54,1088.24 956.54,1088.56 958.54,1088.88 C960.54,1089.19 962.56,1089.48 964.57,1089.76 C966.57,1090.05 968.59,1090.32 970.59,1090.61 C972.60,1090.89 974.60,1091.17 976.60,1091.48 C978.59,1091.78 980.58,1092.10 982.55,1092.45 C984.52,1092.80 986.49,1093.17 988.43,1093.60 C990.38,1094.02 992.31,1094.47 994.21,1094.99 C996.12,1095.51 998.01,1096.07 999.87,1096.71 C1001.73,1097.34 1003.57,1098.04 1005.38,1098.80 C1007.19,1099.56 1008.97,1100.38 1010.73,1101.26 C1012.49,1102.14 1014.22,1103.08 1015.92,1104.06 C1017.63,1105.05 1019.30,1106.10 1020.95,1107.19 C1022.60,1108.28 1024.22,1109.42 1025.81,1110.61 C1027.41,1111.79 1028.97,1113.02 1030.50,1114.29 C1032.04,1115.56 1033.54,1116.88 1035.02,1118.23 C1036.49,1119.57 1037.93,1120.96 1039.36,1122.38 C1040.78,1123.79 1042.17,1125.24 1043.55,1126.71 C1044.92,1128.18 1046.28,1129.67 1047.62,1131.18 C1048.97,1132.69 1050.29,1134.23 1051.62,1135.76 C1052.94,1137.30 1054.25,1138.86 1055.56,1140.41 C1056.87,1141.97 1058.17,1143.53 1059.48,1145.09 C1060.79,1146.65 1062.09,1148.21 1063.41,1149.76 C1064.73,1151.31 1066.05,1152.86 1067.39,1154.38 C1068.73,1155.91 1070.08,1157.43 1071.45,1158.92 C1072.82,1160.42 1074.21,1161.89 1075.62,1163.34 C1077.03,1164.79 1078.46,1166.21 1079.92,1167.60 C1081.39,1168.99 1082.88,1170.35 1084.39,1171.67 C1085.91,1173.00 1087.45,1174.30 1089.01,1175.57 C1090.57,1176.83 1092.16,1178.07 1093.77,1179.28 C1095.38,1180.50 1097.01,1181.68 1098.65,1182.84 C1100.30,1183.99 1101.97,1185.12 1103.65,1186.23 C1105.33,1187.34 1107.03,1188.42 1108.74,1189.47 C1110.46,1190.53 1112.18,1191.56 1113.92,1192.57 C1115.66,1193.58 1117.42,1194.57 1119.18,1195.53 C1120.94,1196.50 1122.71,1197.44 1124.49,1198.37 C1126.27,1199.29 1128.06,1200.19 1129.86,1201.08 C1131.65,1201.96 1133.46,1202.83 1135.27,1203.67 C1137.08,1204.52 1138.90,1205.34 1140.72,1206.15 C1142.55,1206.96 1144.38,1207.75 1146.22,1208.53 C1148.06,1209.30 1149.90,1210.06 1151.76,1210.80 C1153.61,1211.54 1155.47,1212.26 1157.33,1212.97 C1159.20,1213.68 1161.07,1214.37 1162.94,1215.04 C1164.82,1215.72 1166.70,1216.38 1168.59,1217.03 C1170.48,1217.68 1172.37,1218.31 1174.27,1218.93 C1176.17,1219.55 1178.07,1220.16 1179.98,1220.75 C1181.89,1221.34 1183.80,1221.92 1185.72,1222.49 C1187.64,1223.06 1189.56,1223.62 1191.49,1224.16 C1193.41,1224.71 1195.34,1225.24 1197.28,1225.77 C1199.21,1226.29 1201.15,1226.80 1203.09,1227.30 C1205.03,1227.81 1206.98,1228.30 1208.93,1228.79 C1210.88,1229.27 1212.83,1229.74 1214.78,1230.21 C1216.74,1230.68 1218.69,1231.14 1220.65,1231.59 C1222.61,1232.04 1224.58,1232.48 1226.54,1232.92 C1228.51,1233.36 1230.47,1233.79 1232.44,1234.21 C1234.41,1234.63 1236.38,1235.05 1238.35,1235.46 C1240.33,1235.88 1242.30,1236.28 1244.27,1236.69 C1246.25,1237.09 1248.23,1237.49 1250.20,1237.88 C1252.18,1238.27 1254.16,1238.66 1256.14,1239.05 C1258.12,1239.44 1260.10,1239.82 1262.08,1240.20 C1264.06,1240.59 1266.04,1240.97 1268.02,1241.34 C1270.00,1241.72 1271.98,1242.10 1273.96,1242.47 C1275.94,1242.85 1277.91,1243.22 1279.89,1243.60 C1281.87,1243.97 1283.85,1244.34 1285.83,1244.71 C1287.81,1245.08 1289.79,1245.45 1291.77,1245.82 C1293.75,1246.18 1295.73,1246.55 1297.71,1246.91 C1299.69,1247.28 1301.67,1247.64 1303.64,1248.00 C1305.62,1248.36 1307.60,1248.72 1309.58,1249.08 C1311.56,1249.44 1313.54,1249.80 1315.52,1250.15 C1317.50,1250.51 1319.47,1250.86 1321.45,1251.22 C1323.43,1251.57 1325.41,1251.92 1327.39,1252.27 C1329.37,1252.62 1331.35,1252.97 1333.32,1253.31 C1335.30,1253.66 1337.28,1254.01 1339.26,1254.35 C1341.24,1254.69 1343.22,1255.03 1345.20,1255.37 C1347.18,1255.72 1349.15,1256.05 1351.13,1256.39 C1353.11,1256.73 1355.09,1257.06 1357.07,1257.40 C1359.05,1257.73 1361.03,1258.06 1363.01,1258.39 C1364.99,1258.72 1366.97,1259.05 1368.95,1259.38 C1370.92,1259.70 1372.90,1260.03 1374.88,1260.35 C1376.86,1260.68 1378.84,1261.00 1380.82,1261.32 C1382.80,1261.64 1384.78,1261.96 1386.76,1262.27 C1388.74,1262.59 1390.73,1262.90 1392.71,1263.22 C1394.69,1263.53 1396.67,1263.84 1398.65,1264.15 C1400.63,1264.46 1402.61,1264.76 1404.59,1265.07 C1406.57,1265.37 1408.56,1265.68 1410.54,1265.98 C1412.52,1266.28 1414.50,1266.58 1416.48,1266.88 C1418.47,1267.18 1420.45,1267.47 1422.43,1267.77 C1424.41,1268.06 1426.40,1268.35 1428.38,1268.64 C1430.36,1268.93 1432.35,1269.22 1434.33,1269.50 C1436.32,1269.79 1438.30,1270.07 1440.28,1270.36 C1442.27,1270.64 1444.25,1270.92 1446.24,1271.20 C1448.22,1271.47 1450.21,1271.75 1452.20,1272.02 C1454.18,1272.30 1456.17,1272.57 1458.15,1272.84 C1460.14,1273.11 1462.13,1273.37 1464.12,1273.64 C1466.10,1273.90 1468.09,1274.17 1470.08,1274.43 C1472.07,1274.69 1474.05,1274.95 1476.04,1275.21 C1478.03,1275.46 1480.02,1275.72 1482.01,1275.97 C1484.00,1276.23 1485.99,1276.48 1487.98,1276.73 C1489.97,1276.97 1491.96,1277.22 1493.95,1277.47 C1495.94,1277.71 1497.93,1277.96 1499.92,1278.20 C1501.91,1278.44 1503.91,1278.68 1505.90,1278.92 C1507.89,1279.16 1509.88,1279.39 1511.87,1279.63 C1513.87,1279.86 1515.86,1280.09 1517.85,1280.32 C1519.85,1280.55 1521.84,1280.78 1523.83,1281.01 C1525.83,1281.24 1527.82,1281.46 1529.81,1281.69 C1531.81,1281.91 1533.80,1282.13 1535.80,1282.36 C1537.79,1282.58 1539.79,1282.80 1541.78,1283.01 C1543.78,1283.23 1545.77,1283.45 1547.77,1283.66 C1549.76,1283.88 1551.76,1284.09 1553.76,1284.30 C1555.75,1284.51 1557.75,1284.72 1559.75,1284.93 C1561.74,1285.14 1563.74,1285.34 1565.74,1285.55 C1567.73,1285.76 1569.73,1285.96 1571.73,1286.16 C1573.73,1286.36 1575.72,1286.57 1577.72,1286.77 C1579.72,1286.97 1581.72,1287.16 1583.72,1287.36 C1585.71,1287.56 1587.71,1287.75 1589.71,1287.95 C1591.71,1288.14 1593.71,1288.34 1595.71,1288.53 C1597.71,1288.72 1599.71,1288.91 1601.71,1289.10 C1603.71,1289.29 1605.71,1289.48 1607.71,1289.67 C1609.71,1289.85 1611.71,1290.04 1613.71,1290.22 C1615.71,1290.41 1617.71,1290.59 1619.71,1290.78 C1621.71,1290.96 1623.71,1291.14 1625.71,1291.32 C1627.71,1291.50 1629.71,1291.68 1631.71,1291.86 C1633.71,1292.04 1635.71,1292.21 1637.72,1292.39 C1639.72,1292.57 1641.72,1292.74 1643.72,1292.92 C1645.72,1293.09 1647.72,1293.26 1649.73,1293.44 C1651.73,1293.61 1653.73,1293.78 1655.73,1293.95 C1657.73,1294.12 1659.74,1294.29 1661.74,1294.46 C1663.74,1294.63 1665.74,1294.80 1667.74,1294.97 C1669.75,1295.14 1671.75,1295.30 1673.75,1295.47 C1675.75,1295.63 1677.76,1295.80 1679.76,1295.96 C1681.76,1296.13 1683.77,1296.29 1685.77,1296.46 C1687.77,1296.62 1689.78,1296.78 1691.78,1296.94 C1693.78,1297.10 1695.78,1297.27 1697.79,1297.43 C1699.79,1297.59 1701.79,1297.75 1703.80,1297.91 C1705.80,1298.07 1707.80,1298.23 1709.81,1298.38 C1711.81,1298.54 1713.81,1298.70 1715.82,1298.86 C1717.82,1299.01 1719.82,1299.17 1721.83,1299.33 C1723.83,1299.48 1725.83,1299.64 1727.84,1299.80 C1729.84,1299.95 1731.85,1300.11 1733.85,1300.26 C1735.85,1300.42 1737.86,1300.57 1739.86,1300.72 C1741.86,1300.88 1743.87,1301.03 1745.87,1301.19 C1747.87,1301.34 1749.88,1301.49 1751.88,1301.64 C1753.88,1301.80 1755.89,1301.95 1757.89,1302.10 C1759.89,1302.25 1761.90,1302.41 1763.90,1302.56 C1765.90,1302.71 1767.91,1302.86 1769.91,1303.01 C1771.92,1303.17 1773.92,1303.32 1775.92,1303.47 C1777.92,1303.62 1779.93,1303.77 1781.93,1303.92 C1783.93,1304.07 1785.94,1304.23 1787.94,1304.38 C1789.94,1304.53 1791.95,1304.68 1793.95,1304.83 C1795.95,1304.98 1797.96,1305.13 1799.96,1305.28 C1801.96,1305.43 1803.96,1305.59 1805.97,1305.74 C1807.97,1305.89 1809.97,1306.04 1811.97,1306.19 C1813.98,1306.34 1815.98,1306.49 1817.98,1306.65 C1819.98,1306.80 1821.98,1306.95 1823.99,1307.10 C1825.99,1307.25 1827.99,1307.40 1829.99,1307.56 C1831.99,1307.71 1834.00,1307.86 1836.00,1308.01 C1838.00,1308.17 1840.00,1308.32 1842.00,1308.47 C1844.01,1308.63 1846.01,1308.78 1848.01,1308.93 C1850.01,1309.09 1852.01,1309.24 1854.01,1309.40 C1856.01,1309.55 1858.01,1309.71 1860.02,1309.86 C1862.02,1310.02 1864.02,1310.17 1866.02,1310.33 C1868.02,1310.48 1870.02,1310.64 1872.02,1310.80 C1874.02,1310.95 1876.02,1311.11 1878.02,1311.27 C1880.02,1311.42 1882.02,1311.58 1884.02,1311.74 C1886.03,1311.90 1888.03,1312.06 1890.03,1312.22 C1892.03,1312.37 1894.03,1312.53 1896.03,1312.69 C1898.03,1312.85 1900.03,1313.01 1902.03,1313.18 C1904.03,1313.34 1906.03,1313.50 1908.03,1313.66 C1910.03,1313.82 1912.03,1313.99 1914.03,1314.15 C1916.02,1314.31 1918.02,1314.48 1920.02,1314.64 C1922.02,1314.81 1924.02,1314.97 1926.02,1315.14 C1928.02,1315.30 1930.02,1315.47 1932.02,1315.64 C1934.02,1315.81 1936.02,1315.97 1938.02,1316.14 C1940.02,1316.31 1942.01,1316.48 1944.01,1316.65 C1946.01,1316.82 1948.01,1316.99 1950.01,1317.16 C1952.01,1317.34 1954.01,1317.51 1956.00,1317.68 C1958.00,1317.86 1960.00,1318.03 1962.00,1318.20 C1964.00,1318.38 1966.00,1318.56 1967.99,1318.73 C1969.99,1318.91 1971.99,1319.09 1973.99,1319.26 C1975.99,1319.44 1977.98,1319.62 1979.98,1319.80 C1981.98,1319.98 1983.98,1320.16 1985.97,1320.35 C1987.97,1320.53 1989.97,1320.71 1991.97,1320.90 C1993.96,1321.08 1995.96,1321.26 1997.96,1321.45 C1999.96,1321.64 2001.95,1321.82 2003.95,1322.01 C2005.95,1322.20 2007.94,1322.39 2009.94,1322.58 C2011.94,1322.77 2013.93,1322.96 2015.93,1323.15 C2017.93,1323.35 2019.92,1323.54 2021.92,1323.73 C2023.92,1323.93 2025.91,1324.12 2027.91,1324.32 C2029.91,1324.52 2031.90,1324.72 2033.90,1324.92 C2035.89,1325.11 2037.89,1325.32 2039.89,1325.52 C2041.88,1325.72 2043.88,1325.92 2045.87,1326.13 C2047.87,1326.33 2049.87,1326.53 2051.86,1326.74 C2053.86,1326.95 2055.85,1327.16 2057.85,1327.37 C2059.84,1327.57 2061.84,1327.78 2063.83,1328.00 C2065.83,1328.21 2067.82,1328.42 2069.82,1328.64 C2071.81,1328.85 2073.81,1329.07 2075.80,1329.28 C2077.80,1329.50 2079.79,1329.72 2081.79,1329.94 C2083.78,1330.16 2085.78,1330.38 2087.77,1330.60 C2089.77,1330.83 2091.76,1331.05 2093.76,1331.28 C2095.75,1331.50 2097.75,1331.73 2099.74,1331.96 C2101.73,1332.19 2103.73,1332.42 2105.72,1332.65 C2107.72,1332.88 2109.71,1333.12 2111.70,1333.35 C2113.70,1333.59 2115.69,1333.82 2117.68,1334.06 C2119.68,1334.30 2121.67,1334.54 2123.67,1334.78 C2125.66,1335.02 2127.65,1335.27 2129.65,1335.51 C2131.64,1335.75 2133.63,1336.00 2135.62,1336.25 C2137.62,1336.50 2139.61,1336.75 2141.60,1337.00 C2143.60,1337.25 2145.59,1337.50 2147.58,1337.76 C2149.58,1338.01 2151.57,1338.27 2153.56,1338.53 C2155.55,1338.79 2157.55,1339.05 2159.54,1339.31 C2161.53,1339.57 2163.52,1339.83 2165.51,1340.10 C2167.51,1340.36 2169.50,1340.63 2171.49,1340.90 C2173.48,1341.17 2175.47,1341.44 2177.47,1341.71 C2179.46,1341.99 2181.45,1342.26 2183.44,1342.54 C2185.43,1342.82 2187.42,1343.10 2189.42,1343.38 C2191.41,1343.66 2193.40,1343.94 2195.39,1344.22 C2197.38,1344.51 2199.38,1344.79 2201.36,1345.08 C2203.35,1345.38 2206.31,1345.85 2207.30,1346.00 L2211.00,1290.00 L2215.50,1150.00 L2219.30,700.00 L2220.60,418.00" stroke="#008080"/>
<path d="M309.50,459.00 C309.51,460.01 309.52,463.03 309.53,465.06 C309.54,467.08 309.54,469.12 309.56,471.15 C309.58,473.18 309.60,475.20 309.64,477.23 C309.67,479.25 309.71,481.27 309.76,483.29 C309.81,485.30 309.86,487.32 309.92,489.33 C309.98,491.34 310.05,493.35 310.12,495.36 C310.19,497.37 310.27,499.37 310.35,501.38 C310.43,503.38 310.52,505.38 310.61,507.38 C310.70,509.38 310.80,511.38 310.90,513.38 C310.99,515.38 311.10,517.37 311.20,519.37 C311.30,521.36 311.41,523.36 311.52,525.35 C311.63,527.35 311.74,529.34 311.85,531.33 C311.96,533.32 312.07,535.31 312.19,537.31 C312.30,539.30 312.42,541.29 312.53,543.28 C312.64,545.27 312.76,547.26 312.87,549.25 C312.98,551.24 313.10,553.23 313.21,555.23 C313.32,557.22 313.43,559.21 313.53,561.20 C313.64,563.20 313.75,565.19 313.85,567.18 C313.95,569.18 314.05,571.17 314.14,573.17 C314.24,575.17 314.33,577.17 314.42,579.17 C314.51,581.17 314.59,583.17 314.67,585.17 C314.75,587.17 314.82,589.18 314.89,591.19 C314.96,593.19 315.02,595.20 315.07,597.21 C315.13,599.22 315.19,601.24 315.24,603.25 C315.29,605.26 315.34,607.28 315.40,609.30 C315.45,611.32 315.50,613.34 315.56,615.36 C315.62,617.38 315.69,619.40 315.76,621.42 C315.83,623.44 315.90,625.47 315.99,627.49 C316.08,629.52 316.18,631.54 316.29,633.57 C316.40,635.60 316.52,637.63 316.65,639.65 C316.79,641.68 316.94,643.71 317.11,645.74 C317.28,647.77 317.47,649.80 317.68,651.83 C317.89,653.86 318.12,655.89 318.37,657.92 C318.62,659.95 318.89,661.97 319.20,664.00 C319.50,666.03 319.82,668.06 320.18,670.09 C320.54,672.12 320.92,674.15 321.33,676.17 C321.75,678.20 322.19,680.23 322.68,682.25 C323.16,684.27 323.67,686.30 324.24,688.30 C324.80,690.29 325.40,692.27 326.06,694.20 C326.72,696.13 327.42,698.04 328.20,699.87 C328.97,701.70 329.80,703.49 330.71,705.18 C331.62,706.88 332.59,708.52 333.64,710.05 C334.70,711.58 335.83,713.03 337.05,714.36 C338.27,715.68 339.58,716.91 340.98,718.01 C342.38,719.10 343.88,720.08 345.45,720.95 C347.01,721.83 348.67,722.58 350.38,723.26 C352.09,723.93 353.87,724.50 355.70,725.00 C357.53,725.50 359.43,725.90 361.35,726.25 C363.28,726.60 365.26,726.86 367.26,727.08 C369.25,727.30 371.29,727.44 373.34,727.56 C375.38,727.67 377.46,727.73 379.53,727.76 C381.60,727.80 383.68,727.79 385.75,727.77 C387.82,727.74 389.89,727.69 391.96,727.62 C394.02,727.56 396.09,727.46 398.14,727.36 C400.20,727.25 402.25,727.12 404.30,726.97 C406.35,726.82 408.40,726.66 410.44,726.47 C412.48,726.29 414.52,726.10 416.55,725.88 C418.59,725.67 420.62,725.45 422.65,725.21 C424.68,724.97 426.71,724.72 428.73,724.46 C430.75,724.20 432.77,723.92 434.79,723.64 C436.81,723.36 438.82,723.07 440.83,722.77 C442.85,722.47 444.86,722.17 446.86,721.86 C448.87,721.54 450.88,721.23 452.88,720.91 C454.88,720.59 456.89,720.26 458.89,719.93 C460.89,719.61 462.88,719.28 464.88,718.95 C466.88,718.62 468.87,718.29 470.87,717.96 C472.86,717.63 474.85,717.31 476.84,716.98 C478.83,716.66 480.82,716.34 482.81,716.02 C484.80,715.71 486.79,715.39 488.78,715.09 C490.76,714.79 492.75,714.49 494.74,714.20 C496.72,713.91 498.71,713.63 500.70,713.35 C502.68,713.08 504.67,712.82 506.65,712.57 C508.64,712.32 510.62,712.08 512.61,711.86 C514.59,711.64 516.58,711.42 518.56,711.23 C520.55,711.03 522.54,710.85 524.52,710.69 C526.51,710.53 528.50,710.38 530.48,710.25 C532.47,710.12 534.46,710.01 536.45,709.92 C538.44,709.82 540.43,709.74 542.42,709.68 C544.41,709.62 546.40,709.57 548.39,709.54 C550.39,709.51 552.38,709.50 554.37,709.49 C556.36,709.49 558.36,709.50 560.35,709.53 C562.35,709.56 564.34,709.60 566.33,709.65 C568.33,709.70 570.32,709.77 572.32,709.85 C574.32,709.92 576.31,710.01 578.31,710.12 C580.30,710.22 582.30,710.33 584.30,710.46 C586.29,710.58 588.29,710.71 590.29,710.86 C592.29,711.00 594.28,711.16 596.28,711.32 C598.28,711.49 600.28,711.66 602.28,711.84 C604.27,712.02 606.27,712.22 608.27,712.41 C610.27,712.61 612.27,712.82 614.27,713.03 C616.27,713.25 618.27,713.47 620.27,713.69 C622.26,713.92 624.26,714.15 626.26,714.39 C628.26,714.63 630.26,714.88 632.26,715.13 C634.26,715.38 636.26,715.63 638.26,715.89 C640.26,716.15 642.26,716.41 644.26,716.68 C646.26,716.95 648.25,717.22 650.25,717.49 C652.25,717.77 654.25,718.04 656.25,718.32 C658.25,718.60 660.25,718.88 662.24,719.16 C664.24,719.44 666.24,719.72 668.24,720.01 C670.24,720.29 672.23,720.57 674.23,720.86 C676.23,721.14 678.23,721.43 680.22,721.71 C682.22,722.00 684.22,722.28 686.21,722.57 C688.21,722.85 690.20,723.14 692.20,723.42 C694.20,723.71 696.19,723.99 698.19,724.28 C700.18,724.56 702.18,724.85 704.17,725.14 C706.17,725.42 708.16,725.71 710.16,725.99 C712.15,726.28 714.14,726.57 716.14,726.85 C718.13,727.14 720.13,727.43 722.12,727.71 C724.11,728.00 726.11,728.29 728.10,728.57 C730.09,728.86 732.09,729.15 734.08,729.43 C736.07,729.72 738.06,730.01 740.06,730.29 C742.05,730.58 744.04,730.87 746.03,731.15 C748.03,731.44 750.02,731.73 752.01,732.01 C754.00,732.30 755.99,732.59 757.99,732.87 C759.98,733.16 761.97,733.44 763.96,733.73 C765.95,734.02 767.94,734.30 769.93,734.59 C771.92,734.87 773.91,735.16 775.91,735.45 C777.90,735.73 779.89,736.02 781.88,736.30 C783.87,736.59 785.86,736.87 787.85,737.16 C789.84,737.44 791.83,737.73 793.82,738.01 C795.81,738.30 797.80,738.58 799.79,738.86 C801.78,739.15 803.77,739.43 805.76,739.71 C807.75,740.00 809.74,740.28 811.73,740.56 C813.72,740.85 815.71,741.13 817.70,741.41 C819.69,741.69 821.67,741.97 823.66,742.26 C825.65,742.54 827.64,742.82 829.63,743.10 C831.62,743.38 833.61,743.66 835.60,743.94 C837.59,744.22 839.58,744.50 841.57,744.78 C843.56,745.06 845.54,745.34 847.53,745.61 C849.52,745.89 851.51,746.17 853.50,746.45 C855.49,746.72 857.48,747.00 859.47,747.28 C861.46,747.55 863.44,747.83 865.43,748.10 C867.42,748.38 869.41,748.65 871.40,748.93 C873.39,749.20 875.38,749.48 877.37,749.75 C879.36,750.02 881.34,750.30 883.33,750.57 C885.32,750.84 887.31,751.11 889.30,751.38 C891.29,751.65 893.28,751.92 895.27,752.19 C897.26,752.46 899.25,752.73 901.23,753.00 C903.22,753.27 905.21,753.53 907.20,753.80 C909.19,754.07 911.18,754.33 913.17,754.60 C915.16,754.86 917.15,755.13 919.14,755.39 C921.13,755.65 923.12,755.92 925.11,756.18 C927.10,756.44 929.09,756.70 931.08,756.96 C933.07,757.23 935.06,757.49 937.05,757.74 C939.04,758.00 941.03,758.26 943.02,758.52 C945.01,758.78 947.00,759.03 948.99,759.29 C950.98,759.55 952.97,759.80 954.96,760.05 C956.95,760.31 958.94,760.56 960.93,760.81 C962.92,761.07 964.91,761.32 966.90,761.57 C968.90,761.82 970.89,762.07 972.88,762.32 C974.87,762.56 976.86,762.81 978.85,763.06 C980.84,763.31 982.84,763.55 984.83,763.80 C986.82,764.04 988.81,764.28 990.80,764.53 C992.80,764.77 994.79,765.01 996.78,765.25 C998.78,765.49 1000.77,765.73 1002.76,765.97 C1004.75,766.21 1006.75,766.44 1008.74,766.68 C1010.73,766.92 1012.73,767.15 1014.72,767.39 C1016.72,767.62 1018.71,767.85 1020.70,768.08 C1022.70,768.32 1024.69,768.55 1026.69,768.78 C1028.68,769.01 1030.68,769.24 1032.67,769.46 C1034.67,769.69 1036.66,769.92 1038.66,770.15 C1040.65,770.37 1042.65,770.60 1044.64,770.82 C1046.64,771.05 1048.63,771.27 1050.63,771.49 C1052.62,771.71 1054.62,771.94 1056.62,772.16 C1058.61,772.38 1060.61,772.60 1062.60,772.81 C1064.60,773.03 1066.60,773.25 1068.59,773.47 C1070.59,773.68 1072.59,773.90 1074.58,774.12 C1076.58,774.33 1078.58,774.55 1080.58,774.76 C1082.57,774.97 1084.57,775.19 1086.57,775.40 C1088.57,775.61 1090.56,775.82 1092.56,776.03 C1094.56,776.24 1096.56,776.45 1098.55,776.66 C1100.55,776.87 1102.55,777.08 1104.55,777.28 C1106.55,777.49 1108.55,777.70 1110.54,777.90 C1112.54,778.11 1114.54,778.31 1116.54,778.52 C1118.54,778.72 1120.54,778.93 1122.54,779.13 C1124.54,779.33 1126.54,779.54 1128.54,779.74 C1130.53,779.94 1132.53,780.14 1134.53,780.34 C1136.53,780.54 1138.53,780.74 1140.53,780.94 C1142.53,781.14 1144.53,781.34 1146.53,781.53 C1148.53,781.73 1150.53,781.93 1152.53,782.13 C1154.53,782.32 1156.53,782.52 1158.53,782.71 C1160.53,782.91 1162.53,783.10 1164.53,783.30 C1166.54,783.49 1168.54,783.68 1170.54,783.88 C1172.54,784.07 1174.54,784.26 1176.54,784.46 C1178.54,784.65 1180.54,784.84 1182.54,785.03 C1184.54,785.22 1186.55,785.41 1188.55,785.60 C1190.55,785.79 1192.55,785.98 1194.55,786.17 C1196.55,786.36 1198.55,786.55 1200.56,786.74 C1202.56,786.92 1204.56,787.11 1206.56,787.30 C1208.56,787.49 1210.56,787.67 1212.57,787.86 C1214.57,788.05 1216.57,788.23 1218.57,788.42 C1220.57,788.60 1222.58,788.79 1224.58,788.97 C1226.58,789.16 1228.58,789.34 1230.59,789.53 C1232.59,789.71 1234.59,789.90 1236.59,790.08 C1238.60,790.26 1240.60,790.45 1242.60,790.63 C1244.60,790.81 1246.61,790.99 1248.61,791.18 C1250.61,791.36 1252.61,791.54 1254.62,791.72 C1256.62,791.90 1258.62,792.08 1260.62,792.27 C1262.63,792.45 1264.63,792.63 1266.63,792.81 C1268.64,792.99 1270.64,793.17 1272.64,793.35 C1274.65,793.53 1276.65,793.71 1278.65,793.89 C1280.66,794.07 1282.66,794.25 1284.66,794.43 C1286.66,794.61 1288.67,794.79 1290.67,794.97 C1292.67,795.14 1294.68,795.32 1296.68,795.50 C1298.68,795.68 1300.69,795.86 1302.69,796.04 C1304.69,796.22 1306.70,796.39 1308.70,796.57 C1310.70,796.75 1312.71,796.93 1314.71,797.11 C1316.72,797.29 1318.72,797.46 1320.72,797.64 C1322.73,797.82 1324.73,798.00 1326.73,798.17 C1328.74,798.35 1330.74,798.53 1332.74,798.71 C1334.75,798.89 1336.75,799.06 1338.75,799.24 C1340.76,799.42 1342.76,799.60 1344.76,799.77 C1346.77,799.95 1348.77,800.13 1350.78,800.31 C1352.78,800.48 1354.78,800.66 1356.79,800.84 C1358.79,801.02 1360.79,801.20 1362.80,801.37 C1364.80,801.55 1366.80,801.73 1368.81,801.91 C1370.81,802.09 1372.81,802.26 1374.82,802.44 C1376.82,802.62 1378.83,802.80 1380.83,802.98 C1382.83,803.16 1384.84,803.33 1386.84,803.51 C1388.84,803.69 1390.85,803.87 1392.85,804.05 C1394.85,804.23 1396.86,804.41 1398.86,804.59 C1400.86,804.77 1402.87,804.95 1404.87,805.13 C1406.87,805.30 1408.88,805.48 1410.88,805.67 C1412.88,805.85 1414.89,806.03 1416.89,806.21 C1418.89,806.39 1420.90,806.57 1422.90,806.75 C1424.90,806.93 1426.91,807.11 1428.91,807.29 C1430.91,807.47 1432.91,807.66 1434.92,807.84 C1436.92,808.02 1438.92,808.20 1440.93,808.39 C1442.93,808.57 1444.93,808.75 1446.93,808.94 C1448.94,809.12 1450.94,809.30 1452.94,809.49 C1454.94,809.67 1456.95,809.86 1458.95,810.04 C1460.95,810.23 1462.96,810.41 1464.96,810.60 C1466.96,810.78 1468.96,810.97 1470.96,811.15 C1472.97,811.34 1474.97,811.53 1476.97,811.71 C1478.97,811.90 1480.98,812.09 1482.98,812.27 C1484.98,812.46 1486.98,812.65 1488.98,812.83 C1490.99,813.02 1492.99,813.21 1494.99,813.39 C1496.99,813.58 1498.99,813.77 1501.00,813.95 C1503.00,814.14 1505.00,814.33 1507.00,814.51 C1509.00,814.70 1511.01,814.89 1513.01,815.07 C1515.01,815.26 1517.01,815.44 1519.01,815.63 C1521.02,815.81 1523.02,816.00 1525.02,816.18 C1527.02,816.37 1529.02,816.55 1531.02,816.73 C1533.03,816.92 1535.03,817.10 1537.03,817.28 C1539.03,817.46 1541.03,817.65 1543.04,817.83 C1545.04,818.01 1547.04,818.19 1549.04,818.37 C1551.04,818.55 1553.04,818.73 1555.05,818.90 C1557.05,819.08 1559.05,819.26 1561.05,819.43 C1563.05,819.61 1565.06,819.79 1567.06,819.96 C1569.06,820.14 1571.06,820.31 1573.06,820.48 C1575.07,820.65 1577.07,820.82 1579.07,820.99 C1581.07,821.16 1583.07,821.33 1585.08,821.50 C1587.08,821.67 1589.08,821.84 1591.08,822.00 C1593.09,822.17 1595.09,822.33 1597.09,822.49 C1599.09,822.66 1601.10,822.82 1603.10,822.98 C1605.10,823.14 1607.10,823.30 1609.11,823.45 C1611.11,823.61 1613.11,823.77 1615.11,823.92 C1617.12,824.07 1619.12,824.23 1621.12,824.38 C1623.13,824.53 1625.13,824.68 1627.13,824.82 C1629.13,824.97 1631.14,825.12 1633.14,825.26 C1635.14,825.41 1637.15,825.55 1639.15,825.69 C1641.15,825.83 1643.16,825.97 1645.16,826.10 C1647.16,826.24 1649.17,826.37 1651.17,826.51 C1653.18,826.64 1655.18,826.77 1657.18,826.90 C1659.19,827.02 1661.19,827.15 1663.19,827.27 C1665.20,827.40 1667.20,827.52 1669.21,827.64 C1671.21,827.76 1673.22,827.88 1675.22,827.99 C1677.23,828.11 1679.23,828.22 1681.24,828.33 C1683.24,828.44 1685.24,828.55 1687.25,828.65 C1689.25,828.76 1691.26,828.86 1693.27,828.96 C1695.27,829.06 1697.28,829.16 1699.28,829.25 C1701.29,829.35 1703.29,829.44 1705.30,829.53 C1707.30,829.62 1709.31,829.70 1711.32,829.79 C1713.32,829.87 1715.33,829.95 1717.34,830.03 C1719.34,830.11 1721.35,830.19 1723.36,830.26 C1725.36,830.33 1727.37,830.40 1729.38,830.47 C1731.38,830.54 1733.39,830.60 1735.40,830.66 C1737.40,830.72 1739.41,830.78 1741.42,830.83 C1743.43,830.89 1745.44,830.94 1747.44,830.98 C1749.45,831.03 1751.46,831.08 1753.47,831.12 C1755.48,831.16 1757.48,831.20 1759.49,831.23 C1761.50,831.27 1763.51,831.30 1765.52,831.33 C1767.53,831.35 1769.54,831.38 1771.55,831.40 C1773.56,831.42 1775.57,831.44 1777.58,831.46 C1779.59,831.47 1781.60,831.48 1783.61,831.49 C1785.62,831.50 1787.63,831.51 1789.64,831.51 C1791.65,831.52 1793.66,831.52 1795.67,831.52 C1797.68,831.52 1799.69,831.51 1801.70,831.51 C1803.71,831.50 1805.72,831.49 1807.73,831.48 C1809.74,831.47 1811.76,831.46 1813.77,831.45 C1815.78,831.43 1817.79,831.42 1819.80,831.40 C1821.81,831.38 1823.82,831.36 1825.83,831.34 C1827.85,831.32 1829.86,831.29 1831.87,831.27 C1833.88,831.25 1835.89,831.22 1837.90,831.19 C1839.92,831.17 1841.93,831.14 1843.94,831.11 C1845.95,831.08 1847.96,831.05 1849.98,831.02 C1851.99,830.99 1854.00,830.95 1856.01,830.92 C1858.02,830.89 1860.03,830.85 1862.05,830.82 C1864.06,830.78 1866.07,830.75 1868.08,830.71 C1870.09,830.68 1872.11,830.64 1874.12,830.61 C1876.13,830.57 1878.14,830.53 1880.15,830.50 C1882.16,830.46 1884.18,830.42 1886.19,830.39 C1888.20,830.35 1890.21,830.31 1892.22,830.28 C1894.23,830.24 1896.25,830.21 1898.26,830.17 C1900.27,830.14 1902.28,830.10 1904.29,830.07 C1906.30,830.03 1908.31,830.00 1910.33,829.97 C1912.34,829.93 1914.35,829.90 1916.36,829.87 C1918.37,829.84 1920.38,829.81 1922.39,829.78 C1924.40,829.75 1926.41,829.72 1928.42,829.69 C1930.43,829.67 1932.44,829.64 1934.45,829.62 C1936.46,829.59 1938.47,829.57 1940.48,829.54 C1942.49,829.52 1944.50,829.50 1946.51,829.48 C1948.52,829.46 1950.53,829.44 1952.54,829.43 C1954.55,829.41 1956.56,829.39 1958.57,829.38 C1960.58,829.36 1962.59,829.35 1964.60,829.34 C1966.61,829.33 1968.62,829.31 1970.63,829.31 C1972.64,829.30 1974.65,829.29 1976.66,829.28 C1978.66,829.28 1980.67,829.27 1982.68,829.27 C1984.69,829.27 1986.70,829.27 1988.71,829.27 C1990.72,829.27 1992.73,829.27 1994.73,829.27 C1996.74,829.27 1998.75,829.28 2000.76,829.29 C2002.77,829.29 2004.78,829.30 2006.78,829.31 C2008.79,829.32 2010.80,829.34 2012.81,829.35 C2014.82,829.36 2016.83,829.38 2018.83,829.40 C2020.84,829.41 2022.85,829.43 2024.86,829.46 C2026.87,829.48 2028.87,829.50 2030.88,829.53 C2032.89,829.55 2034.90,829.58 2036.91,829.61 C2038.91,829.64 2040.92,829.67 2042.93,829.70 C2044.94,829.74 2046.94,829.77 2048.95,829.81 C2050.96,829.85 2052.97,829.89 2054.97,829.93 C2056.98,829.97 2058.99,830.01 2061.00,830.06 C2063.00,830.11 2065.01,830.16 2067.02,830.21 C2069.03,830.26 2071.03,830.31 2073.04,830.37 C2075.05,830.42 2077.05,830.48 2079.06,830.54 C2081.07,830.60 2083.08,830.66 2085.08,830.73 C2087.09,830.79 2089.10,830.86 2091.11,830.93 C2093.11,831.00 2095.12,831.07 2097.13,831.15 C2099.13,831.22 2101.14,831.30 2103.15,831.38 C2105.16,831.46 2107.16,831.54 2109.17,831.63 C2111.18,831.71 2113.18,831.80 2115.19,831.89 C2117.20,831.98 2119.21,832.08 2121.21,832.17 C2123.22,832.27 2125.23,832.37 2127.23,832.47 C2129.24,832.57 2131.25,832.67 2133.25,832.78 C2135.26,832.89 2137.27,833.00 2139.28,833.11 C2141.28,833.23 2143.29,833.34 2145.30,833.46 C2147.30,833.58 2149.31,833.70 2151.32,833.83 C2153.33,833.95 2155.33,834.08 2157.34,834.21 C2159.35,834.34 2161.35,834.47 2163.36,834.61 C2165.37,834.75 2167.38,834.89 2169.38,835.03 C2171.39,835.17 2173.40,835.32 2175.41,835.47 C2177.41,835.62 2179.42,835.77 2181.43,835.93 C2183.44,836.08 2185.44,836.24 2187.45,836.40 C2189.46,836.57 2191.46,836.73 2193.47,836.90 C2195.48,837.07 2197.49,837.29 2199.50,837.42 C2201.50,837.55 2204.50,837.65 2205.50,837.70 L2209.50,803.00 L2219.00,620.00 L2220.80,425.00" stroke="#ff00ff"/>
</g>
<g fill="#000">
<rect x="281.0" y="50.75" width="28.50" height="6.5"/>
<rect x="295.0" y="121.95" width="14.50" height="6.5"/>
<rect x="281.0" y="193.15" width="28.50" height="6.5"/>
<rect x="295.0" y="264.35" width="14.50" height="6.5"/>
<rect x="281.0" y="335.55" width="28.50" height="6.5"/>
<rect x="295.0" y="406.75" width="14.50" height="6.5"/>
<rect x="281.0" y="477.95" width="28.50" height="6.5"/>
<rect x="295.0" y="549.15" width="14.50" height="6.5"/>
<rect x="281.0" y="620.35" width="28.50" height="6.5"/>
<rect x="295.0" y="691.55" width="14.50" height="6.5"/>
<rect x="281.0" y="762.75" width="28.50" height="6.5"/>
<rect x="295.0" y="833.95" width="14.50" height="6.5"/>
<rect x="281.0" y="905.15" width="28.50" height="6.5"/>
<rect x="295.0" y="976.35" width="14.50" height="6.5"/>
<rect x="281.0" y="1047.55" width="28.50" height="6.5"/>
<rect x="295.0" y="1118.75" width="14.50" height="6.5"/>
<rect x="281.0" y="1189.95" width="28.50" height="6.5"/>
<rect x="295.0" y="1261.15" width="14.50" height="6.5"/>
<rect x="281.0" y="1332.35" width="28.50" height="6.5"/>
<rect x="295.0" y="1403.55" width="14.50" height="6.5"/>
<rect x="281.0" y="1474.75" width="28.50" height="6.5"/>
<rect x="426.03" y="1478.00" width="6.0" height="15.00"/>
<rect x="625.65" y="1478.00" width="6.0" height="28.00"/>
<rect x="825.28" y="1478.00" width="6.0" height="15.00"/>
<rect x="1024.90" y="1478.00" width="6.0" height="28.00"/>
<rect x="1224.53" y="1478.00" width="6.0" height="15.00"/>
<rect x="1424.15" y="1478.00" width="6.0" height="28.00"/>
<rect x="1623.78" y="1478.00" width="6.0" height="15.00"/>
<rect x="1823.40" y="1478.00" width="6.0" height="28.00"/>
<rect x="2023.03" y="1478.00" width="6.0" height="15.00"/>
<rect x="2222.65" y="1478.00" width="6.0" height="28.00"/>
</g>
<g fill="#000">
<text transform="translate(176.22,70.70) scale(0.9850,1)" x="0" y="0" font-family='"Liberation Sans", Arial, sans-serif' font-size="62.5">0.2</text>
<text transform="translate(176.22,213.10) scale(0.9850,1)" x="0" y="0" font-family='"Liberation Sans", Arial, sans-serif' font-size="62.5" clip-path="url(#nf0)">0.1</text>
<text transform="translate(176.22,355.50) scale(0.9850,1)" x="0" y="0" font-family='"Liberation Sans", Arial, sans-serif' font-size="62.5">0.0</text>
<text transform="translate(155.72,497.90) scale(0.9850,1)" x="0" y="0" font-family='"Liberation Sans", Arial, sans-serif' font-size="62.5" clip-path="url(#nf1)">-0.1</text>
<text transform="translate(155.72,640.30) scale(0.9850,1)" x="0" y="0" font-family='"Liberation Sans", Arial, sans-serif' font-size="62.5">-0.2</text>
<text transform="translate(155.72,782.70) scale(0.9850,1)" x="0" y="0" font-family='"Liberation Sans", Arial, sans-serif' font-size="62.5">-0.3</text>
<text transform="translate(155.72,925.10) scale(0.9850,1)" x="0" y="0" font-family='"Liberation Sans", Arial, sans-serif' font-size="62.5">-0.4</text>
<text transform="translate(155.72,1067.50) scale(0.9850,1)" x="0" y="0" font-family='"Liberation Sans", Arial, sans-serif' font-size="62.5">-0.5</text>
<text transform="translate(155.72,1209.90) scale(0.9850,1)" x="0" y="0" font-family='"Liberation Sans", Arial, sans-serif' font-size="62.5">-0.6</text>
<text transform="translate(155.72,1352.30) scale(0.9850,1)" x="0" y="0" font-family='"Liberation Sans", Arial, sans-serif' font-size="62.5">-0.7</text>
<text transform="translate(155.72,1494.70) scale(0.9850,1)" x="0" y="0" font-family='"Liberation Sans", Arial, sans-serif' font-size="62.5">-0.8</text>
<text transform="translate(384.54,1572.80) scale(0.9850,1)" x="0" y="0" font-family='"Liberation Sans", Arial, sans-serif' font-size="62.5">-75</text>
<text transform="translate(584.16,1572.80) scale(0.9850,1)" x="0" y="0" font-family='"Liberation Sans", Arial, sans-serif' font-size="62.5">-50</text>
<text transform="translate(783.79,1572.80) scale(0.9850,1)" x="0" y="0" font-family='"Liberation Sans", Arial, sans-serif' font-size="62.5">-25</text>
<text transform="translate(1010.78,1572.80) scale(0.9850,1)" x="0" y="0" font-family='"Liberation Sans", Arial, sans-serif' font-size="62.5">0</text>
<text transform="translate(1193.29,1572.80) scale(0.9850,1)" x="0" y="0" font-family='"Liberation Sans", Arial, sans-serif' font-size="62.5">25</text>
<text transform="translate(1392.91,1572.80) scale(0.9850,1)" x="0" y="0" font-family='"Liberation Sans", Arial, sans-serif' font-size="62.5">50</text>
<text transform="translate(1592.54,1572.80) scale(0.9850,1)" x="0" y="0" font-family='"Liberation Sans", Arial, sans-serif' font-size="62.5">75</text>
<text transform="translate(1775.04,1572.80) scale(0.9850,1)" x="0" y="0" font-family='"Liberation Sans", Arial, sans-serif' font-size="62.5" clip-path="url(#nf2)">100</text>
<text transform="translate(1974.67,1572.80) scale(0.9850,1)" x="0" y="0" font-family='"Liberation Sans", Arial, sans-serif' font-size="62.5" clip-path="url(#nf3)">125</text>
<text transform="translate(2174.29,1572.80) scale(0.9850,1)" x="0" y="0" font-family='"Liberation Sans", Arial, sans-serif' font-size="62.5" clip-path="url(#nf4)">150</text>
</g>
<g fill="#000">
<text transform="translate(934.20,1702.80) scale(0.9587,1.0000)" x="-2.02" y="0" font-family='"Liberation Sans", Arial, sans-serif' font-size="90.0">Temperature</text>
<text transform="translate(1455.90,1703.20) scale(0.9300,1.0000)" x="-5.39" y="0" font-family='"Liberation Sans", Arial, sans-serif' font-size="86.9">(</text>
<text transform="translate(1483.30,1712.40) scale(1.0000,1.0000)" x="-5.34" y="0" font-family='"Liberation Sans", Arial, sans-serif' font-size="89.6" stroke="#fff" stroke-width="1.3">°</text>
<text transform="translate(1514.90,1702.80) scale(0.9630,1.0000)" x="-4.57" y="0" font-family='"Liberation Sans", Arial, sans-serif' font-size="90.0">C</text>
<text transform="translate(1577.37,1703.20) scale(0.9300,1.0000)" x="-0.51" y="0" font-family='"Liberation Sans", Arial, sans-serif' font-size="86.9">)</text>
<text transform="translate(92.10,1083.00) rotate(-90) scale(0.9565,1.0000)" x="-7.38" y="0" font-family='"Liberation Sans", Arial, sans-serif' font-size="90.0">Heat flow (W g</text>
<text transform="translate(48.60,522.50) rotate(-90) scale(1.0750,1.0000)" x="-2.34" y="0" font-family='"Liberation Serif", "Times New Roman", serif' font-size="47.0">−</text>
<text transform="translate(45.00,491.80) rotate(-90) scale(0.7400,1.0000)" x="-4.25" y="0" font-family='"Liberation Serif", "Times New Roman", serif' font-size="48.3">1</text>
<text transform="translate(91.20,471.00) rotate(-90) scale(0.8900,1.0000)" x="-0.50" y="0" font-family='"Liberation Sans", Arial, sans-serif' font-size="84.7">)</text>
</g>
<g>
<rect x="1456.8" y="103.70" width="152.2" height="8.4" fill="#000000"/>
<text transform="translate(1626.77,131.00) scale(0.9548,1)" x="0" y="0" font-family='"Liberation Sans", Arial, sans-serif' font-size="71.0">AP-5 OSP 0 wt %</text>
<rect x="1456.8" y="186.65" width="152.2" height="8.4" fill="#ff0000"/>
<text transform="translate(1626.77,214.00) scale(0.9548,1)" x="0" y="0" font-family='"Liberation Sans", Arial, sans-serif' font-size="71.0">AP-5 OSP 5 wt %</text>
<rect x="1456.8" y="269.60" width="152.2" height="8.4" fill="#0000ff"/>
<text transform="translate(1626.77,297.00) scale(0.9548,1)" x="0" y="0" font-family='"Liberation Sans", Arial, sans-serif' font-size="71.0" clip-path="url(#nf5)">AP-5 OSP 10 wt %</text>
<rect x="1456.8" y="352.55" width="152.2" height="8.4" fill="#008080"/>
<text transform="translate(1626.77,380.00) scale(0.9548,1)" x="0" y="0" font-family='"Liberation Sans", Arial, sans-serif' font-size="71.0" clip-path="url(#nf6)">AP-5 OSP 15 wt %</text>
<rect x="1456.8" y="435.50" width="152.2" height="8.4" fill="#ff00ff"/>
<text transform="translate(1626.77,463.00) scale(0.9548,1)" x="0" y="0" font-family='"Liberation Sans", Arial, sans-serif' font-size="71.0">OSP</text>
</g>
<g fill="#000">
<rect x="401" y="118" width="8" height="56.8"/>
<path d="M405,87.2 L396.9,120.6 L413.1,120.6 Z" stroke="#000" stroke-width="8" stroke-linejoin="round"/>
<text transform="translate(352.00,240.00) scale(0.9630,1.0000)" x="-5.82" y="0" font-family='"Liberation Sans", Arial, sans-serif' font-size="71.0">Exo</text>
<rect x="340.9" y="1396.9" width="682" height="7.8"/>
<path d="M1055.9,1400.8 L1021,1392.2 L1021,1409.4 Z" stroke="#000" stroke-width="8" stroke-linejoin="round"/>
<text transform="translate(351.70,1368.90) scale(0.9596,1.0000)" x="-5.82" y="0" font-family='"Liberation Sans", Arial, sans-serif' font-size="71.0">Heating at 20</text>
<text transform="translate(774.60,1375.20) scale(1.0000,1.0000)" x="-4.22" y="0" font-family='"Liberation Sans", Arial, sans-serif' font-size="70.9" stroke="#fff" stroke-width="0.8">°</text>
<text transform="translate(800.00,1368.90) scale(0.9620,1.0000)" x="-3.61" y="0" font-family='"Liberation Sans", Arial, sans-serif' font-size="71.0">C</text>
<text transform="translate(869.00,1368.90) scale(0.9620,1.0000)" x="-4.71" y="0" font-family='"Liberation Sans", Arial, sans-serif' font-size="71.0">min</text>
<text transform="translate(975.90,1329.17) scale(1.0000,0.6000)" x="-1.83" y="0" font-family='"Liberation Sans", Arial, sans-serif' font-size="37.2">−</text>
<text transform="translate(998.90,1331.80) scale(1.0000,1.0000)" x="-4.18" y="0" font-family='"Liberation Sans", Arial, sans-serif' font-size="43.5" clip-path="url(#nf7)">1</text>
</g>
<g stroke="#000" stroke-width="4.7" fill="none">
<line x1="771.2" y1="801" x2="769.3" y2="1237" stroke-dasharray="20 9 5 8.9"/>
<line x1="1067.9" y1="880" x2="1064.3" y2="1316" stroke-dasharray="19.9 8.9 4.9 9.05"/>
</g>
<line x1="856.30" y1="844.30" x2="803.27" y2="875.70" stroke="#000" stroke-width="4.0"/><path d="M777.89,890.74 L800.41,866.94 L809.58,882.43 Z" fill="#000" stroke="#000" stroke-width="3" stroke-linejoin="round"/>
<line x1="1170.40" y1="931.80" x2="1102.37" y2="980.14" stroke="#000" stroke-width="4.0"/><path d="M1078.32,997.23 L1098.79,971.65 L1109.21,986.32 Z" fill="#000" stroke="#000" stroke-width="3" stroke-linejoin="round"/>
<g fill="#000">
<text transform="translate(859.00,839.80) scale(0.9660,1.0000)" x="-2.02" y="0" font-family='"Liberation Sans", Arial, sans-serif' font-size="90.0">T</text>
<text transform="translate(911.70,872.90) scale(1.0000,1.0000)" x="-2.26" y="0" font-family='"Liberation Sans", Arial, sans-serif' font-size="53.8" clip-path="url(#nf8)">g1</text>
<text transform="translate(1168.90,924.80) scale(0.9660,1.0000)" x="-2.02" y="0" font-family='"Liberation Sans", Arial, sans-serif' font-size="90.0">T</text>
<text transform="translate(1221.80,957.80) scale(0.9690,1.0000)" x="-2.26" y="0" font-family='"Liberation Sans", Arial, sans-serif' font-size="53.8">g2</text>
</g>
<defs><clipPath id="nf0" clipPathUnits="userSpaceOnUse"><path clip-rule="evenodd" d="M-3000,-3000H6000V3000H-3000ZM55.48,-5.65H67.81V6.25H55.48ZM73.39,-5.65H85.24V6.25H73.39Z"/></clipPath><clipPath id="nf1" clipPathUnits="userSpaceOnUse"><path clip-rule="evenodd" d="M-3000,-3000H6000V3000H-3000ZM76.29,-5.65H88.62V6.25H76.29ZM94.21,-5.65H106.05V6.25H94.21Z"/></clipPath><clipPath id="nf2" clipPathUnits="userSpaceOnUse"><path clip-rule="evenodd" d="M-3000,-3000H6000V3000H-3000ZM3.36,-5.65H15.69V6.25H3.36ZM21.27,-5.65H33.11V6.25H21.27Z"/></clipPath><clipPath id="nf3" clipPathUnits="userSpaceOnUse"><path clip-rule="evenodd" d="M-3000,-3000H6000V3000H-3000ZM3.36,-5.65H15.69V6.25H3.36ZM21.27,-5.65H33.11V6.25H21.27Z"/></clipPath><clipPath id="nf4" clipPathUnits="userSpaceOnUse"><path clip-rule="evenodd" d="M-3000,-3000H6000V3000H-3000ZM3.36,-5.65H15.69V6.25H3.36ZM21.27,-5.65H33.11V6.25H21.27Z"/></clipPath><clipPath id="nf5" clipPathUnits="userSpaceOnUse"><path clip-rule="evenodd" d="M-3000,-3000H6000V3000H-3000ZM351.05,-6.41H365.05V7.10H351.05ZM371.40,-6.41H384.85V7.10H371.40Z"/></clipPath><clipPath id="nf6" clipPathUnits="userSpaceOnUse"><path clip-rule="evenodd" d="M-3000,-3000H6000V3000H-3000ZM351.05,-6.41H365.05V7.10H351.05ZM371.40,-6.41H384.85V7.10H371.40Z"/></clipPath><clipPath id="nf7" clipPathUnits="userSpaceOnUse"><path clip-rule="evenodd" d="M-3000,-3000H6000V3000H-3000ZM-1.85,-3.93H6.73V4.35H-1.85ZM10.62,-3.93H18.86V4.35H10.62Z"/></clipPath><clipPath id="nf8" clipPathUnits="userSpaceOnUse"><path clip-rule="evenodd" d="M-3000,-3000H6000V3000H-3000ZM30.55,-4.86H41.16V5.38H30.55ZM45.97,-4.86H56.16V5.38H45.97Z"/></clipPath></defs>
</svg></body></html>
